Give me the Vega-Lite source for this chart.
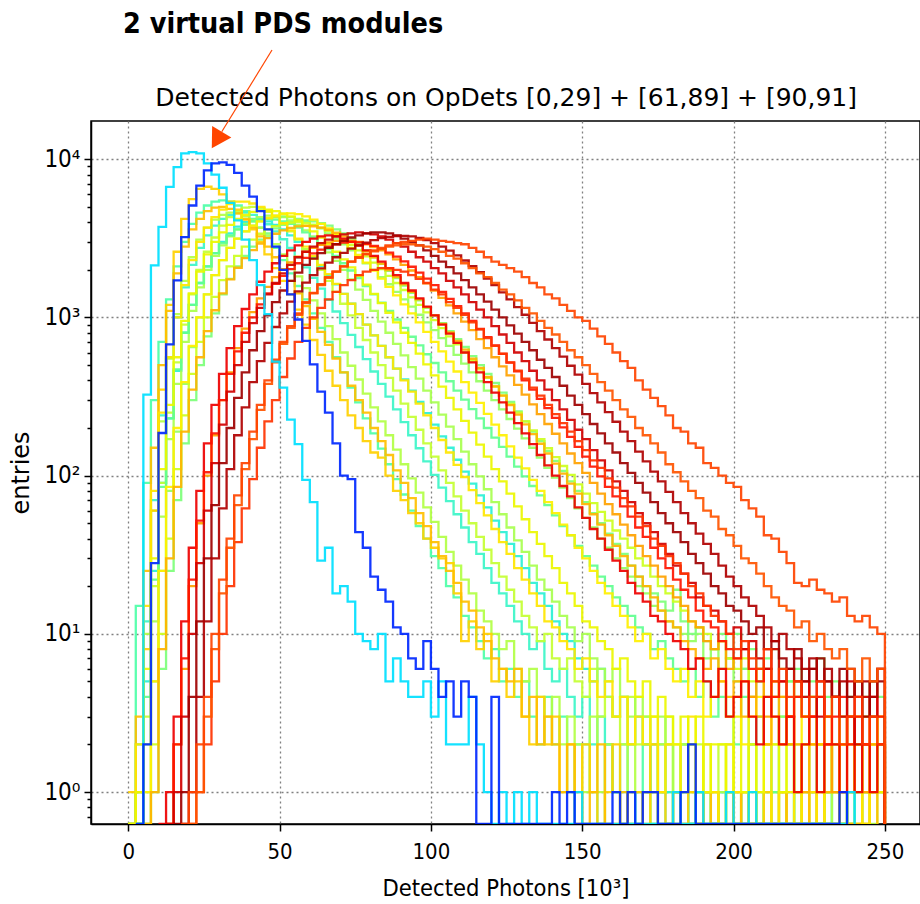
{"$schema":"https://vega.github.io/schema/vega-lite/v6.json","width":829,"height":703,"autosize":{"type":"none"},"padding":{"left":91,"top":121,"right":0,"bottom":80},
"config":{"view":{"stroke":"black","strokeWidth":1.5},"axis":{"domainColor":"black","domainWidth":1.5,"tickColor":"black","tickWidth":1.5,"labelFont":"DejaVu Sans Condensed","labelColor":"black","titleFontWeight":"normal","titleColor":"black","gridColor":"#808080","gridDash":[2,3],"gridWidth":1.3}},
"layer":[
{"data":{"values":[
{"s":"Q","x":0,"y":0},{"s":"Q","x":2.5,"y":15},{"s":"Q","x":5,"y":90},{"s":"Q","x":7.5,"y":300},{"s":"Q","x":10,"y":700},{"s":"Q","x":12.5,"y":1300},{"s":"Q","x":15,"y":2100},{"s":"Q","x":17.5,"y":3000},{"s":"Q","x":20,"y":3900},{"s":"Q","x":22.5,"y":4600},{"s":"Q","x":25,"y":5100},{"s":"Q","x":27.5,"y":5400},{"s":"Q","x":30,"y":5500},{"s":"Q","x":32.5,"y":5400},{"s":"Q","x":35,"y":5100},{"s":"Q","x":37.5,"y":4700},{"s":"Q","x":40,"y":4200},{"s":"Q","x":42.5,"y":3700},{"s":"Q","x":45,"y":3200},{"s":"Q","x":47.5,"y":2750},{"s":"Q","x":50,"y":2300},{"s":"Q","x":52.5,"y":1900},{"s":"Q","x":55,"y":1580},{"s":"Q","x":57.5,"y":1300},{"s":"Q","x":60,"y":1060},{"s":"Q","x":62.5,"y":860},{"s":"Q","x":65,"y":700},{"s":"Q","x":67.5,"y":560},{"s":"Q","x":70,"y":450},{"s":"Q","x":72.5,"y":360},{"s":"Q","x":75,"y":290},{"s":"Q","x":77.5,"y":230},{"s":"Q","x":80,"y":185},{"s":"Q","x":82.5,"y":148},{"s":"Q","x":85,"y":118},{"s":"Q","x":87.5,"y":95},{"s":"Q","x":90,"y":76},{"s":"Q","x":92.5,"y":60},{"s":"Q","x":95,"y":48},{"s":"Q","x":97.5,"y":40},{"s":"Q","x":100,"y":31},{"s":"Q","x":102.5,"y":26},{"s":"Q","x":105,"y":20},{"s":"Q","x":107.5,"y":17},{"s":"Q","x":110,"y":13},{"s":"Q","x":112.5,"y":11},{"s":"Q","x":115,"y":9},{"s":"Q","x":117.5,"y":7},{"s":"Q","x":120,"y":8},{"s":"Q","x":122.5,"y":5},{"s":"Q","x":125,"y":6},{"s":"Q","x":127.5,"y":4},{"s":"Q","x":130,"y":5},{"s":"Q","x":132.5,"y":3},{"s":"Q","x":135,"y":2},{"s":"Q","x":137.5,"y":4},{"s":"Q","x":140,"y":2},{"s":"Q","x":142.5,"y":3},{"s":"Q","x":145,"y":1},{"s":"Q","x":147.5,"y":2},{"s":"Q","x":150,"y":2},{"s":"Q","x":152.5,"y":1},{"s":"Q","x":155,"y":0},{"s":"Q","x":157.5,"y":2},{"s":"Q","x":160,"y":1},{"s":"Q","x":162.5,"y":1},{"s":"Q","x":165,"y":0},{"s":"Q","x":167.5,"y":1},{"s":"Q","x":170,"y":2},{"s":"Q","x":172.5,"y":0},{"s":"Q","x":175,"y":1},{"s":"Q","x":177.5,"y":1},{"s":"Q","x":180,"y":0},{"s":"Q","x":182.5,"y":1},{"s":"Q","x":185,"y":0},{"s":"Q","x":187.5,"y":1},{"s":"Q","x":190,"y":0},{"s":"Q","x":195,"y":1},{"s":"Q","x":197.5,"y":0},{"s":"Q","x":200,"y":1},{"s":"Q","x":202.5,"y":0},{"s":"Q","x":212.5,"y":1},{"s":"Q","x":215,"y":0},{"s":"Q","x":230,"y":1},{"s":"Q","x":232.5,"y":0},
{"s":"T","x":0,"y":0},{"s":"T","x":2.5,"y":1},{"s":"T","x":5,"y":5},{"s":"T","x":7.5,"y":25},{"s":"T","x":10,"y":90},{"s":"T","x":12.5,"y":230},{"s":"T","x":15,"y":460},{"s":"T","x":17.5,"y":800},{"s":"T","x":20,"y":1200},{"s":"T","x":22.5,"y":1650},{"s":"T","x":25,"y":2100},{"s":"T","x":27.5,"y":2550},{"s":"T","x":30,"y":3000},{"s":"T","x":32.5,"y":3400},{"s":"T","x":35,"y":3750},{"s":"T","x":37.5,"y":4000},{"s":"T","x":40,"y":4150},{"s":"T","x":42.5,"y":4150},{"s":"T","x":45,"y":4050},{"s":"T","x":47.5,"y":3850},{"s":"T","x":50,"y":3600},{"s":"T","x":52.5,"y":3300},{"s":"T","x":55,"y":3000},{"s":"T","x":57.5,"y":2700},{"s":"T","x":60,"y":2400},{"s":"T","x":62.5,"y":2120},{"s":"T","x":65,"y":1860},{"s":"T","x":67.5,"y":1620},{"s":"T","x":70,"y":1410},{"s":"T","x":72.5,"y":1220},{"s":"T","x":75,"y":1050},{"s":"T","x":77.5,"y":900},{"s":"T","x":80,"y":770},{"s":"T","x":82.5,"y":660},{"s":"T","x":85,"y":560},{"s":"T","x":87.5,"y":475},{"s":"T","x":90,"y":405},{"s":"T","x":92.5,"y":345},{"s":"T","x":95,"y":292},{"s":"T","x":97.5,"y":248},{"s":"T","x":100,"y":210},{"s":"T","x":102.5,"y":177},{"s":"T","x":105,"y":150},{"s":"T","x":107.5,"y":126},{"s":"T","x":110,"y":106},{"s":"T","x":112.5,"y":89},{"s":"T","x":115,"y":75},{"s":"T","x":117.5,"y":63},{"s":"T","x":120,"y":52},{"s":"T","x":122.5,"y":44},{"s":"T","x":125,"y":37},{"s":"T","x":127.5,"y":31},{"s":"T","x":130,"y":26},{"s":"T","x":132.5,"y":21},{"s":"T","x":135,"y":18},{"s":"T","x":137.5,"y":15},{"s":"T","x":140,"y":12},{"s":"T","x":142.5,"y":10},{"s":"T","x":145,"y":9},{"s":"T","x":147.5,"y":7},{"s":"T","x":150,"y":6},{"s":"T","x":152.5,"y":5},{"s":"T","x":155,"y":6},{"s":"T","x":157.5,"y":4},{"s":"T","x":160,"y":3},{"s":"T","x":162.5,"y":4},{"s":"T","x":165,"y":2},{"s":"T","x":167.5,"y":3},{"s":"T","x":170,"y":2},{"s":"T","x":172.5,"y":1},{"s":"T","x":175,"y":2},{"s":"T","x":177.5,"y":1},{"s":"T","x":180,"y":1},{"s":"T","x":182.5,"y":2},{"s":"T","x":185,"y":0},{"s":"T","x":187.5,"y":1},{"s":"T","x":190,"y":1},{"s":"T","x":192.5,"y":0},{"s":"T","x":195,"y":1},{"s":"T","x":197.5,"y":1},{"s":"T","x":200,"y":0},{"s":"T","x":202.5,"y":1},{"s":"T","x":205,"y":0},{"s":"T","x":217.5,"y":1},{"s":"T","x":220,"y":0},{"s":"T","x":240,"y":1},{"s":"T","x":242.5,"y":0},
{"s":"S","x":0,"y":0},{"s":"S","x":2.5,"y":2},{"s":"S","x":5,"y":12},{"s":"S","x":7.5,"y":70},{"s":"S","x":10,"y":240},{"s":"S","x":12.5,"y":560},{"s":"S","x":15,"y":1000},{"s":"S","x":17.5,"y":1550},{"s":"S","x":20,"y":2150},{"s":"S","x":22.5,"y":2750},{"s":"S","x":25,"y":3300},{"s":"S","x":27.5,"y":3800},{"s":"S","x":30,"y":4200},{"s":"S","x":32.5,"y":4450},{"s":"S","x":35,"y":4600},{"s":"S","x":37.5,"y":4600},{"s":"S","x":40,"y":4450},{"s":"S","x":42.5,"y":4200},{"s":"S","x":45,"y":3880},{"s":"S","x":47.5,"y":3500},{"s":"S","x":50,"y":3120},{"s":"S","x":52.5,"y":2750},{"s":"S","x":55,"y":2400},{"s":"S","x":57.5,"y":2070},{"s":"S","x":60,"y":1780},{"s":"S","x":62.5,"y":1520},{"s":"S","x":65,"y":1290},{"s":"S","x":67.5,"y":1090},{"s":"S","x":70,"y":920},{"s":"S","x":72.5,"y":775},{"s":"S","x":75,"y":650},{"s":"S","x":77.5,"y":545},{"s":"S","x":80,"y":455},{"s":"S","x":82.5,"y":380},{"s":"S","x":85,"y":316},{"s":"S","x":87.5,"y":262},{"s":"S","x":90,"y":218},{"s":"S","x":92.5,"y":180},{"s":"S","x":95,"y":149},{"s":"S","x":97.5,"y":123},{"s":"S","x":100,"y":101},{"s":"S","x":102.5,"y":84},{"s":"S","x":105,"y":69},{"s":"S","x":107.5,"y":57},{"s":"S","x":110,"y":47},{"s":"S","x":112.5,"y":38},{"s":"S","x":115,"y":32},{"s":"S","x":117.5,"y":26},{"s":"S","x":120,"y":21},{"s":"S","x":122.5,"y":18},{"s":"S","x":125,"y":15},{"s":"S","x":127.5,"y":12},{"s":"S","x":130,"y":10},{"s":"S","x":132.5,"y":8},{"s":"S","x":135,"y":9},{"s":"S","x":137.5,"y":6},{"s":"S","x":140,"y":5},{"s":"S","x":142.5,"y":6},{"s":"S","x":145,"y":4},{"s":"S","x":147.5,"y":3},{"s":"S","x":150,"y":4},{"s":"S","x":152.5,"y":2},{"s":"S","x":155,"y":3},{"s":"S","x":157.5,"y":2},{"s":"S","x":160,"y":1},{"s":"S","x":162.5,"y":2},{"s":"S","x":165,"y":1},{"s":"S","x":167.5,"y":0},{"s":"S","x":170,"y":1},{"s":"S","x":172.5,"y":2},{"s":"S","x":175,"y":1},{"s":"S","x":177.5,"y":0},{"s":"S","x":180,"y":1},{"s":"S","x":182.5,"y":1},{"s":"S","x":185,"y":0},{"s":"S","x":190,"y":1},{"s":"S","x":192.5,"y":0},{"s":"S","x":197.5,"y":1},{"s":"S","x":200,"y":0},{"s":"S","x":207.5,"y":1},{"s":"S","x":210,"y":0},{"s":"S","x":220,"y":1},{"s":"S","x":222.5,"y":0},{"s":"S","x":232.5,"y":1},{"s":"S","x":235,"y":0},
{"s":"L","x":0,"y":0},{"s":"L","x":2.5,"y":1},{"s":"L","x":5,"y":10},{"s":"L","x":7.5,"y":60},{"s":"L","x":10,"y":220},{"s":"L","x":12.5,"y":550},{"s":"L","x":15,"y":1050},{"s":"L","x":17.5,"y":1700},{"s":"L","x":20,"y":2400},{"s":"L","x":22.5,"y":3100},{"s":"L","x":25,"y":3700},{"s":"L","x":27.5,"y":4150},{"s":"L","x":30,"y":4450},{"s":"L","x":32.5,"y":4600},{"s":"L","x":35,"y":4550},{"s":"L","x":37.5,"y":4350},{"s":"L","x":40,"y":4050},{"s":"L","x":42.5,"y":3700},{"s":"L","x":45,"y":3300},{"s":"L","x":47.5,"y":2900},{"s":"L","x":50,"y":2500},{"s":"L","x":52.5,"y":2150},{"s":"L","x":55,"y":1820},{"s":"L","x":57.5,"y":1530},{"s":"L","x":60,"y":1280},{"s":"L","x":62.5,"y":1060},{"s":"L","x":65,"y":880},{"s":"L","x":67.5,"y":730},{"s":"L","x":70,"y":600},{"s":"L","x":72.5,"y":495},{"s":"L","x":75,"y":405},{"s":"L","x":77.5,"y":330},{"s":"L","x":80,"y":270},{"s":"L","x":82.5,"y":220},{"s":"L","x":85,"y":180},{"s":"L","x":87.5,"y":146},{"s":"L","x":90,"y":118},{"s":"L","x":92.5,"y":96},{"s":"L","x":95,"y":78},{"s":"L","x":97.5,"y":63},{"s":"L","x":100,"y":51},{"s":"L","x":102.5,"y":41},{"s":"L","x":105,"y":33},{"s":"L","x":107.5,"y":27},{"s":"L","x":110,"y":22},{"s":"L","x":112.5,"y":18},{"s":"L","x":115,"y":14},{"s":"L","x":117.5,"y":12},{"s":"L","x":120,"y":10},{"s":"L","x":122.5,"y":8},{"s":"L","x":125,"y":9},{"s":"L","x":127.5,"y":6},{"s":"L","x":130,"y":5},{"s":"L","x":132.5,"y":6},{"s":"L","x":135,"y":4},{"s":"L","x":137.5,"y":3},{"s":"L","x":140,"y":4},{"s":"L","x":142.5,"y":2},{"s":"L","x":145,"y":3},{"s":"L","x":147.5,"y":2},{"s":"L","x":150,"y":1},{"s":"L","x":152.5,"y":3},{"s":"L","x":155,"y":1},{"s":"L","x":157.5,"y":2},{"s":"L","x":160,"y":1},{"s":"L","x":162.5,"y":0},{"s":"L","x":165,"y":2},{"s":"L","x":167.5,"y":1},{"s":"L","x":170,"y":1},{"s":"L","x":172.5,"y":0},{"s":"L","x":175,"y":1},{"s":"L","x":177.5,"y":2},{"s":"L","x":180,"y":0},{"s":"L","x":182.5,"y":1},{"s":"L","x":185,"y":1},{"s":"L","x":187.5,"y":0},{"s":"L","x":190,"y":1},{"s":"L","x":192.5,"y":0},{"s":"L","x":195,"y":1},{"s":"L","x":197.5,"y":1},{"s":"L","x":200,"y":0},{"s":"L","x":205,"y":1},{"s":"L","x":207.5,"y":0},{"s":"L","x":210,"y":1},{"s":"L","x":212.5,"y":0},{"s":"L","x":217.5,"y":1},{"s":"L","x":220,"y":0},{"s":"L","x":222.5,"y":1},{"s":"L","x":225,"y":0},{"s":"L","x":230,"y":1},{"s":"L","x":232.5,"y":0},{"s":"L","x":235,"y":1},{"s":"L","x":237.5,"y":0},{"s":"L","x":242.5,"y":1},{"s":"L","x":245,"y":0},{"s":"L","x":247.5,"y":1},{"s":"L","x":250,"y":0},
{"s":"G","x":2.5,"y":0},{"s":"G","x":5,"y":3},{"s":"G","x":7.5,"y":20},{"s":"G","x":10,"y":90},{"s":"G","x":12.5,"y":250},{"s":"G","x":15,"y":520},{"s":"G","x":17.5,"y":900},{"s":"G","x":20,"y":1400},{"s":"G","x":22.5,"y":2000},{"s":"G","x":25,"y":2600},{"s":"G","x":27.5,"y":3200},{"s":"G","x":30,"y":3800},{"s":"G","x":32.5,"y":4300},{"s":"G","x":35,"y":4700},{"s":"G","x":37.5,"y":4950},{"s":"G","x":40,"y":5000},{"s":"G","x":42.5,"y":4900},{"s":"G","x":45,"y":4650},{"s":"G","x":47.5,"y":4300},{"s":"G","x":50,"y":3900},{"s":"G","x":52.5,"y":3500},{"s":"G","x":55,"y":3100},{"s":"G","x":57.5,"y":2700},{"s":"G","x":60,"y":2350},{"s":"G","x":62.5,"y":2000},{"s":"G","x":65,"y":1700},{"s":"G","x":67.5,"y":1450},{"s":"G","x":70,"y":1220},{"s":"G","x":72.5,"y":1030},{"s":"G","x":75,"y":860},{"s":"G","x":77.5,"y":720},{"s":"G","x":80,"y":600},{"s":"G","x":82.5,"y":500},{"s":"G","x":85,"y":415},{"s":"G","x":87.5,"y":345},{"s":"G","x":90,"y":285},{"s":"G","x":92.5,"y":235},{"s":"G","x":95,"y":195},{"s":"G","x":97.5,"y":160},{"s":"G","x":100,"y":132},{"s":"G","x":102.5,"y":108},{"s":"G","x":105,"y":90},{"s":"G","x":107.5,"y":74},{"s":"G","x":110,"y":60},{"s":"G","x":112.5,"y":50},{"s":"G","x":115,"y":41},{"s":"G","x":117.5,"y":34},{"s":"G","x":120,"y":28},{"s":"G","x":122.5,"y":23},{"s":"G","x":125,"y":19},{"s":"G","x":127.5,"y":16},{"s":"G","x":130,"y":13},{"s":"G","x":132.5,"y":11},{"s":"G","x":135,"y":9},{"s":"G","x":137.5,"y":10},{"s":"G","x":140,"y":7},{"s":"G","x":142.5,"y":6},{"s":"G","x":145,"y":7},{"s":"G","x":147.5,"y":5},{"s":"G","x":150,"y":4},{"s":"G","x":152.5,"y":6},{"s":"G","x":155,"y":3},{"s":"G","x":157.5,"y":4},{"s":"G","x":160,"y":3},{"s":"G","x":162.5,"y":2},{"s":"G","x":165,"y":4},{"s":"G","x":167.5,"y":2},{"s":"G","x":170,"y":3},{"s":"G","x":172.5,"y":1},{"s":"G","x":175,"y":2},{"s":"G","x":177.5,"y":3},{"s":"G","x":180,"y":1},{"s":"G","x":182.5,"y":2},{"s":"G","x":185,"y":1},{"s":"G","x":187.5,"y":2},{"s":"G","x":190,"y":0},{"s":"G","x":192.5,"y":1},{"s":"G","x":195,"y":2},{"s":"G","x":197.5,"y":1},{"s":"G","x":200,"y":0},{"s":"G","x":202.5,"y":1},{"s":"G","x":205,"y":2},{"s":"G","x":207.5,"y":0},{"s":"G","x":210,"y":1},{"s":"G","x":212.5,"y":1},{"s":"G","x":215,"y":0},{"s":"G","x":217.5,"y":2},{"s":"G","x":220,"y":1},{"s":"G","x":222.5,"y":0},{"s":"G","x":225,"y":1},{"s":"G","x":227.5,"y":0},{"s":"G","x":230,"y":1},{"s":"G","x":232.5,"y":2},{"s":"G","x":235,"y":0},{"s":"G","x":237.5,"y":1},{"s":"G","x":240,"y":1},{"s":"G","x":242.5,"y":0},{"s":"G","x":245,"y":1},{"s":"G","x":247.5,"y":1},{"s":"G","x":250,"y":0},
{"s":"P","x":2.5,"y":0},{"s":"P","x":5,"y":2},{"s":"P","x":7.5,"y":12},{"s":"P","x":10,"y":55},{"s":"P","x":12.5,"y":170},{"s":"P","x":15,"y":380},{"s":"P","x":17.5,"y":700},{"s":"P","x":20,"y":1100},{"s":"P","x":22.5,"y":1550},{"s":"P","x":25,"y":2000},{"s":"P","x":27.5,"y":2450},{"s":"P","x":30,"y":2850},{"s":"P","x":32.5,"y":3250},{"s":"P","x":35,"y":3600},{"s":"P","x":37.5,"y":3900},{"s":"P","x":40,"y":4150},{"s":"P","x":42.5,"y":4300},{"s":"P","x":45,"y":4400},{"s":"P","x":47.5,"y":4400},{"s":"P","x":50,"y":4300},{"s":"P","x":52.5,"y":4100},{"s":"P","x":55,"y":3850},{"s":"P","x":57.5,"y":3550},{"s":"P","x":60,"y":3250},{"s":"P","x":62.5,"y":2900},{"s":"P","x":65,"y":2580},{"s":"P","x":67.5,"y":2280},{"s":"P","x":70,"y":2000},{"s":"P","x":72.5,"y":1740},{"s":"P","x":75,"y":1500},{"s":"P","x":77.5,"y":1290},{"s":"P","x":80,"y":1100},{"s":"P","x":82.5,"y":940},{"s":"P","x":85,"y":800},{"s":"P","x":87.5,"y":680},{"s":"P","x":90,"y":575},{"s":"P","x":92.5,"y":485},{"s":"P","x":95,"y":410},{"s":"P","x":97.5,"y":345},{"s":"P","x":100,"y":290},{"s":"P","x":102.5,"y":243},{"s":"P","x":105,"y":204},{"s":"P","x":107.5,"y":170},{"s":"P","x":110,"y":142},{"s":"P","x":112.5,"y":118},{"s":"P","x":115,"y":99},{"s":"P","x":117.5,"y":82},{"s":"P","x":120,"y":68},{"s":"P","x":122.5,"y":57},{"s":"P","x":125,"y":47},{"s":"P","x":127.5,"y":39},{"s":"P","x":130,"y":33},{"s":"P","x":132.5,"y":27},{"s":"P","x":135,"y":22},{"s":"P","x":137.5,"y":19},{"s":"P","x":140,"y":16},{"s":"P","x":142.5,"y":13},{"s":"P","x":145,"y":11},{"s":"P","x":147.5,"y":9},{"s":"P","x":150,"y":10},{"s":"P","x":152.5,"y":7},{"s":"P","x":155,"y":6},{"s":"P","x":157.5,"y":5},{"s":"P","x":160,"y":6},{"s":"P","x":162.5,"y":4},{"s":"P","x":165,"y":3},{"s":"P","x":167.5,"y":4},{"s":"P","x":170,"y":3},{"s":"P","x":172.5,"y":2},{"s":"P","x":175,"y":3},{"s":"P","x":177.5,"y":2},{"s":"P","x":180,"y":1},{"s":"P","x":182.5,"y":2},{"s":"P","x":185,"y":2},{"s":"P","x":187.5,"y":1},{"s":"P","x":190,"y":2},{"s":"P","x":192.5,"y":1},{"s":"P","x":195,"y":0},{"s":"P","x":197.5,"y":2},{"s":"P","x":200,"y":1},{"s":"P","x":202.5,"y":1},{"s":"P","x":205,"y":2},{"s":"P","x":207.5,"y":0},{"s":"P","x":210,"y":1},{"s":"P","x":212.5,"y":2},{"s":"P","x":215,"y":1},{"s":"P","x":217.5,"y":0},{"s":"P","x":220,"y":2},{"s":"P","x":222.5,"y":1},{"s":"P","x":225,"y":1},{"s":"P","x":227.5,"y":0},{"s":"P","x":230,"y":1},{"s":"P","x":232.5,"y":2},{"s":"P","x":235,"y":1},{"s":"P","x":237.5,"y":0},{"s":"P","x":240,"y":1},{"s":"P","x":242.5,"y":1},{"s":"P","x":245,"y":2},{"s":"P","x":247.5,"y":1},{"s":"P","x":250,"y":0},
{"s":"U","x":2.5,"y":0},{"s":"U","x":5,"y":4},{"s":"U","x":7.5,"y":22},{"s":"U","x":10,"y":85},{"s":"U","x":12.5,"y":230},{"s":"U","x":15,"y":470},{"s":"U","x":17.5,"y":800},{"s":"U","x":20,"y":1200},{"s":"U","x":22.5,"y":1650},{"s":"U","x":25,"y":2100},{"s":"U","x":27.5,"y":2550},{"s":"U","x":30,"y":2950},{"s":"U","x":32.5,"y":3300},{"s":"U","x":35,"y":3600},{"s":"U","x":37.5,"y":3850},{"s":"U","x":40,"y":4050},{"s":"U","x":42.5,"y":4150},{"s":"U","x":45,"y":4200},{"s":"U","x":47.5,"y":4150},{"s":"U","x":50,"y":4050},{"s":"U","x":52.5,"y":3900},{"s":"U","x":55,"y":3700},{"s":"U","x":57.5,"y":3450},{"s":"U","x":60,"y":3200},{"s":"U","x":62.5,"y":2950},{"s":"U","x":65,"y":2700},{"s":"U","x":67.5,"y":2450},{"s":"U","x":70,"y":2200},{"s":"U","x":72.5,"y":1980},{"s":"U","x":75,"y":1770},{"s":"U","x":77.5,"y":1580},{"s":"U","x":80,"y":1400},{"s":"U","x":82.5,"y":1240},{"s":"U","x":85,"y":1100},{"s":"U","x":87.5,"y":970},{"s":"U","x":90,"y":860},{"s":"U","x":92.5,"y":755},{"s":"U","x":95,"y":665},{"s":"U","x":97.5,"y":585},{"s":"U","x":100,"y":515},{"s":"U","x":102.5,"y":450},{"s":"U","x":105,"y":395},{"s":"U","x":107.5,"y":345},{"s":"U","x":110,"y":302},{"s":"U","x":112.5,"y":263},{"s":"U","x":115,"y":230},{"s":"U","x":117.5,"y":200},{"s":"U","x":120,"y":174},{"s":"U","x":122.5,"y":152},{"s":"U","x":125,"y":132},{"s":"U","x":127.5,"y":114},{"s":"U","x":130,"y":99},{"s":"U","x":132.5,"y":86},{"s":"U","x":135,"y":75},{"s":"U","x":137.5,"y":65},{"s":"U","x":140,"y":56},{"s":"U","x":142.5,"y":48},{"s":"U","x":145,"y":42},{"s":"U","x":147.5,"y":36},{"s":"U","x":150,"y":31},{"s":"U","x":152.5,"y":27},{"s":"U","x":155,"y":23},{"s":"U","x":157.5,"y":20},{"s":"U","x":160,"y":17},{"s":"U","x":162.5,"y":15},{"s":"U","x":165,"y":13},{"s":"U","x":167.5,"y":11},{"s":"U","x":170,"y":10},{"s":"U","x":172.5,"y":8},{"s":"U","x":175,"y":9},{"s":"U","x":177.5,"y":7},{"s":"U","x":180,"y":6},{"s":"U","x":182.5,"y":5},{"s":"U","x":185,"y":6},{"s":"U","x":187.5,"y":4},{"s":"U","x":190,"y":5},{"s":"U","x":192.5,"y":3},{"s":"U","x":195,"y":4},{"s":"U","x":197.5,"y":3},{"s":"U","x":200,"y":2},{"s":"U","x":202.5,"y":4},{"s":"U","x":205,"y":2},{"s":"U","x":207.5,"y":3},{"s":"U","x":210,"y":2},{"s":"U","x":212.5,"y":1},{"s":"U","x":215,"y":3},{"s":"U","x":217.5,"y":2},{"s":"U","x":220,"y":1},{"s":"U","x":222.5,"y":2},{"s":"U","x":225,"y":1},{"s":"U","x":227.5,"y":2},{"s":"U","x":230,"y":1},{"s":"U","x":232.5,"y":2},{"s":"U","x":235,"y":0},{"s":"U","x":237.5,"y":1},{"s":"U","x":240,"y":2},{"s":"U","x":242.5,"y":1},{"s":"U","x":245,"y":1},{"s":"U","x":247.5,"y":2},{"s":"U","x":250,"y":0},
{"s":"H","x":2.5,"y":0},{"s":"H","x":5,"y":1},{"s":"H","x":7.5,"y":5},{"s":"H","x":10,"y":25},{"s":"H","x":12.5,"y":80},{"s":"H","x":15,"y":190},{"s":"H","x":17.5,"y":380},{"s":"H","x":20,"y":650},{"s":"H","x":22.5,"y":1000},{"s":"H","x":25,"y":1400},{"s":"H","x":27.5,"y":1850},{"s":"H","x":30,"y":2300},{"s":"H","x":32.5,"y":2750},{"s":"H","x":35,"y":3150},{"s":"H","x":37.5,"y":3500},{"s":"H","x":40,"y":3800},{"s":"H","x":42.5,"y":4050},{"s":"H","x":45,"y":4200},{"s":"H","x":47.5,"y":4300},{"s":"H","x":50,"y":4350},{"s":"H","x":52.5,"y":4300},{"s":"H","x":55,"y":4200},{"s":"H","x":57.5,"y":4050},{"s":"H","x":60,"y":3850},{"s":"H","x":62.5,"y":3650},{"s":"H","x":65,"y":3400},{"s":"H","x":67.5,"y":3150},{"s":"H","x":70,"y":2900},{"s":"H","x":72.5,"y":2650},{"s":"H","x":75,"y":2400},{"s":"H","x":77.5,"y":2200},{"s":"H","x":80,"y":2000},{"s":"H","x":82.5,"y":1800},{"s":"H","x":85,"y":1620},{"s":"H","x":87.5,"y":1450},{"s":"H","x":90,"y":1300},{"s":"H","x":92.5,"y":1170},{"s":"H","x":95,"y":1040},{"s":"H","x":97.5,"y":930},{"s":"H","x":100,"y":830},{"s":"H","x":102.5,"y":740},{"s":"H","x":105,"y":660},{"s":"H","x":107.5,"y":580},{"s":"H","x":110,"y":510},{"s":"H","x":112.5,"y":450},{"s":"H","x":115,"y":395},{"s":"H","x":117.5,"y":345},{"s":"H","x":120,"y":300},{"s":"H","x":122.5,"y":262},{"s":"H","x":125,"y":228},{"s":"H","x":127.5,"y":198},{"s":"H","x":130,"y":172},{"s":"H","x":132.5,"y":150},{"s":"H","x":135,"y":130},{"s":"H","x":137.5,"y":112},{"s":"H","x":140,"y":97},{"s":"H","x":142.5,"y":84},{"s":"H","x":145,"y":72},{"s":"H","x":147.5,"y":62},{"s":"H","x":150,"y":54},{"s":"H","x":152.5,"y":47},{"s":"H","x":155,"y":40},{"s":"H","x":157.5,"y":35},{"s":"H","x":160,"y":30},{"s":"H","x":162.5,"y":26},{"s":"H","x":165,"y":23},{"s":"H","x":167.5,"y":20},{"s":"H","x":170,"y":18},{"s":"H","x":172.5,"y":15},{"s":"H","x":175,"y":14},{"s":"H","x":177.5,"y":12},{"s":"H","x":180,"y":11},{"s":"H","x":182.5,"y":10},{"s":"H","x":185,"y":9},{"s":"H","x":187.5,"y":10},{"s":"H","x":190,"y":7},{"s":"H","x":192.5,"y":8},{"s":"H","x":195,"y":6},{"s":"H","x":197.5,"y":7},{"s":"H","x":200,"y":5},{"s":"H","x":202.5,"y":6},{"s":"H","x":205,"y":4},{"s":"H","x":207.5,"y":5},{"s":"H","x":210,"y":6},{"s":"H","x":212.5,"y":4},{"s":"H","x":215,"y":3},{"s":"H","x":217.5,"y":5},{"s":"H","x":220,"y":4},{"s":"H","x":222.5,"y":3},{"s":"H","x":225,"y":4},{"s":"H","x":227.5,"y":2},{"s":"H","x":230,"y":3},{"s":"H","x":232.5,"y":4},{"s":"H","x":235,"y":2},{"s":"H","x":237.5,"y":3},{"s":"H","x":240,"y":2},{"s":"H","x":242.5,"y":4},{"s":"H","x":245,"y":3},{"s":"H","x":247.5,"y":2},{"s":"H","x":250,"y":0},
{"s":"I","x":5,"y":0},{"s":"I","x":7.5,"y":1},{"s":"I","x":10,"y":6},{"s":"I","x":12.5,"y":25},{"s":"I","x":15,"y":70},{"s":"I","x":17.5,"y":160},{"s":"I","x":20,"y":300},{"s":"I","x":22.5,"y":500},{"s":"I","x":25,"y":760},{"s":"I","x":27.5,"y":1060},{"s":"I","x":30,"y":1400},{"s":"I","x":32.5,"y":1750},{"s":"I","x":35,"y":2100},{"s":"I","x":37.5,"y":2450},{"s":"I","x":40,"y":2800},{"s":"I","x":42.5,"y":3100},{"s":"I","x":45,"y":3400},{"s":"I","x":47.5,"y":3650},{"s":"I","x":50,"y":3850},{"s":"I","x":52.5,"y":4000},{"s":"I","x":55,"y":4100},{"s":"I","x":57.5,"y":4100},{"s":"I","x":60,"y":4050},{"s":"I","x":62.5,"y":3950},{"s":"I","x":65,"y":3800},{"s":"I","x":67.5,"y":3600},{"s":"I","x":70,"y":3400},{"s":"I","x":72.5,"y":3150},{"s":"I","x":75,"y":2900},{"s":"I","x":77.5,"y":2650},{"s":"I","x":80,"y":2400},{"s":"I","x":82.5,"y":2180},{"s":"I","x":85,"y":1970},{"s":"I","x":87.5,"y":1770},{"s":"I","x":90,"y":1590},{"s":"I","x":92.5,"y":1430},{"s":"I","x":95,"y":1280},{"s":"I","x":97.5,"y":1150},{"s":"I","x":100,"y":1030},{"s":"I","x":102.5,"y":920},{"s":"I","x":105,"y":820},{"s":"I","x":107.5,"y":730},{"s":"I","x":110,"y":650},{"s":"I","x":112.5,"y":570},{"s":"I","x":115,"y":500},{"s":"I","x":117.5,"y":440},{"s":"I","x":120,"y":385},{"s":"I","x":122.5,"y":335},{"s":"I","x":125,"y":292},{"s":"I","x":127.5,"y":255},{"s":"I","x":130,"y":220},{"s":"I","x":132.5,"y":190},{"s":"I","x":135,"y":165},{"s":"I","x":137.5,"y":143},{"s":"I","x":140,"y":124},{"s":"I","x":142.5,"y":107},{"s":"I","x":145,"y":92},{"s":"I","x":147.5,"y":80},{"s":"I","x":150,"y":68},{"s":"I","x":152.5,"y":58},{"s":"I","x":155,"y":50},{"s":"I","x":157.5,"y":43},{"s":"I","x":160,"y":37},{"s":"I","x":162.5,"y":32},{"s":"I","x":165,"y":27},{"s":"I","x":167.5,"y":23},{"s":"I","x":170,"y":20},{"s":"I","x":172.5,"y":18},{"s":"I","x":175,"y":16},{"s":"I","x":177.5,"y":14},{"s":"I","x":180,"y":19},{"s":"I","x":182.5,"y":12},{"s":"I","x":185,"y":10},{"s":"I","x":187.5,"y":11},{"s":"I","x":190,"y":9},{"s":"I","x":192.5,"y":8},{"s":"I","x":195,"y":10},{"s":"I","x":197.5,"y":7},{"s":"I","x":200,"y":10},{"s":"I","x":202.5,"y":6},{"s":"I","x":205,"y":8},{"s":"I","x":207.5,"y":5},{"s":"I","x":210,"y":7},{"s":"I","x":212.5,"y":8},{"s":"I","x":215,"y":6},{"s":"I","x":217.5,"y":5},{"s":"I","x":220,"y":6},{"s":"I","x":222.5,"y":4},{"s":"I","x":225,"y":5},{"s":"I","x":227.5,"y":7},{"s":"I","x":230,"y":4},{"s":"I","x":232.5,"y":5},{"s":"I","x":235,"y":3},{"s":"I","x":237.5,"y":4},{"s":"I","x":240,"y":5},{"s":"I","x":242.5,"y":3},{"s":"I","x":245,"y":5},{"s":"I","x":247.5,"y":4},{"s":"I","x":250,"y":0},
{"s":"V","x":5,"y":0},{"s":"V","x":7.5,"y":2},{"s":"V","x":10,"y":10},{"s":"V","x":12.5,"y":40},{"s":"V","x":15,"y":110},{"s":"V","x":17.5,"y":240},{"s":"V","x":20,"y":440},{"s":"V","x":22.5,"y":700},{"s":"V","x":25,"y":1000},{"s":"V","x":27.5,"y":1350},{"s":"V","x":30,"y":1720},{"s":"V","x":32.5,"y":2100},{"s":"V","x":35,"y":2450},{"s":"V","x":37.5,"y":2800},{"s":"V","x":40,"y":3100},{"s":"V","x":42.5,"y":3380},{"s":"V","x":45,"y":3600},{"s":"V","x":47.5,"y":3780},{"s":"V","x":50,"y":3900},{"s":"V","x":52.5,"y":3980},{"s":"V","x":55,"y":4000},{"s":"V","x":57.5,"y":3950},{"s":"V","x":60,"y":3850},{"s":"V","x":62.5,"y":3700},{"s":"V","x":65,"y":3520},{"s":"V","x":67.5,"y":3320},{"s":"V","x":70,"y":3100},{"s":"V","x":72.5,"y":2880},{"s":"V","x":75,"y":2650},{"s":"V","x":77.5,"y":2430},{"s":"V","x":80,"y":2220},{"s":"V","x":82.5,"y":2020},{"s":"V","x":85,"y":1830},{"s":"V","x":87.5,"y":1650},{"s":"V","x":90,"y":1490},{"s":"V","x":92.5,"y":1340},{"s":"V","x":95,"y":1200},{"s":"V","x":97.5,"y":1075},{"s":"V","x":100,"y":960},{"s":"V","x":102.5,"y":855},{"s":"V","x":105,"y":760},{"s":"V","x":107.5,"y":675},{"s":"V","x":110,"y":600},{"s":"V","x":112.5,"y":532},{"s":"V","x":115,"y":470},{"s":"V","x":117.5,"y":415},{"s":"V","x":120,"y":366},{"s":"V","x":122.5,"y":322},{"s":"V","x":125,"y":284},{"s":"V","x":127.5,"y":250},{"s":"V","x":130,"y":220},{"s":"V","x":132.5,"y":193},{"s":"V","x":135,"y":170},{"s":"V","x":137.5,"y":149},{"s":"V","x":140,"y":131},{"s":"V","x":142.5,"y":115},{"s":"V","x":145,"y":101},{"s":"V","x":147.5,"y":88},{"s":"V","x":150,"y":77},{"s":"V","x":152.5,"y":67},{"s":"V","x":155,"y":59},{"s":"V","x":157.5,"y":52},{"s":"V","x":160,"y":45},{"s":"V","x":162.5,"y":40},{"s":"V","x":165,"y":35},{"s":"V","x":167.5,"y":30},{"s":"V","x":170,"y":27},{"s":"V","x":172.5,"y":23},{"s":"V","x":175,"y":20},{"s":"V","x":177.5,"y":18},{"s":"V","x":180,"y":16},{"s":"V","x":182.5,"y":14},{"s":"V","x":185,"y":12},{"s":"V","x":187.5,"y":11},{"s":"V","x":190,"y":10},{"s":"V","x":192.5,"y":8},{"s":"V","x":195,"y":9},{"s":"V","x":197.5,"y":7},{"s":"V","x":200,"y":6},{"s":"V","x":202.5,"y":7},{"s":"V","x":205,"y":5},{"s":"V","x":207.5,"y":6},{"s":"V","x":210,"y":4},{"s":"V","x":212.5,"y":5},{"s":"V","x":215,"y":4},{"s":"V","x":217.5,"y":3},{"s":"V","x":220,"y":5},{"s":"V","x":222.5,"y":3},{"s":"V","x":225,"y":4},{"s":"V","x":227.5,"y":2},{"s":"V","x":230,"y":3},{"s":"V","x":232.5,"y":4},{"s":"V","x":235,"y":2},{"s":"V","x":237.5,"y":3},{"s":"V","x":240,"y":3},{"s":"V","x":242.5,"y":2},{"s":"V","x":245,"y":3},{"s":"V","x":247.5,"y":2},{"s":"V","x":250,"y":0},
{"s":"Y","x":0,"y":1},{"s":"Y","x":2.5,"y":1},{"s":"Y","x":5,"y":8},{"s":"Y","x":7.5,"y":60},{"s":"Y","x":10,"y":350},{"s":"Y","x":12.5,"y":1200},{"s":"Y","x":15,"y":2600},{"s":"Y","x":17.5,"y":4200},{"s":"Y","x":20,"y":5600},{"s":"Y","x":22.5,"y":6500},{"s":"Y","x":25,"y":6700},{"s":"Y","x":27.5,"y":6500},{"s":"Y","x":30,"y":6000},{"s":"Y","x":32.5,"y":5400},{"s":"Y","x":35,"y":4800},{"s":"Y","x":37.5,"y":4200},{"s":"Y","x":40,"y":3600},{"s":"Y","x":42.5,"y":3000},{"s":"Y","x":45,"y":2500},{"s":"Y","x":47.5,"y":2050},{"s":"Y","x":50,"y":1700},{"s":"Y","x":52.5,"y":1400},{"s":"Y","x":55,"y":1120},{"s":"Y","x":57.5,"y":900},{"s":"Y","x":60,"y":720},{"s":"Y","x":62.5,"y":580},{"s":"Y","x":65,"y":460},{"s":"Y","x":67.5,"y":370},{"s":"Y","x":70,"y":300},{"s":"Y","x":72.5,"y":240},{"s":"Y","x":75,"y":200},{"s":"Y","x":77.5,"y":165},{"s":"Y","x":80,"y":140},{"s":"Y","x":82.5,"y":130},{"s":"Y","x":85,"y":100},{"s":"Y","x":87.5,"y":80},{"s":"Y","x":90,"y":70},{"s":"Y","x":92.5,"y":58},{"s":"Y","x":95,"y":50},{"s":"Y","x":97.5,"y":40},{"s":"Y","x":100,"y":35},{"s":"Y","x":102.5,"y":30},{"s":"Y","x":105,"y":28},{"s":"Y","x":107.5,"y":18},{"s":"Y","x":110,"y":9},{"s":"Y","x":112.5,"y":12},{"s":"Y","x":115,"y":8},{"s":"Y","x":117.5,"y":10},{"s":"Y","x":120,"y":5},{"s":"Y","x":122.5,"y":6},{"s":"Y","x":125,"y":4},{"s":"Y","x":127.5,"y":5},{"s":"Y","x":130,"y":3},{"s":"Y","x":132.5,"y":2},{"s":"Y","x":135,"y":4},{"s":"Y","x":137.5,"y":2},{"s":"Y","x":140,"y":3},{"s":"Y","x":142.5,"y":1},{"s":"Y","x":145,"y":2},{"s":"Y","x":147.5,"y":0},{"s":"Y","x":150,"y":2},{"s":"Y","x":152.5,"y":1},{"s":"Y","x":155,"y":0},{"s":"Y","x":157.5,"y":1},{"s":"Y","x":160,"y":2},{"s":"Y","x":162.5,"y":0},{"s":"Y","x":165,"y":1},{"s":"Y","x":167.5,"y":1},{"s":"Y","x":170,"y":0},{"s":"Y","x":172.5,"y":2},{"s":"Y","x":175,"y":1},{"s":"Y","x":177.5,"y":0},{"s":"Y","x":180,"y":1},{"s":"Y","x":182.5,"y":0},{"s":"Y","x":185,"y":1},{"s":"Y","x":187.5,"y":0},{"s":"Y","x":190,"y":1},{"s":"Y","x":192.5,"y":1},{"s":"Y","x":195,"y":0},{"s":"Y","x":197.5,"y":1},{"s":"Y","x":200,"y":0},{"s":"Y","x":202.5,"y":1},{"s":"Y","x":205,"y":0},{"s":"Y","x":210,"y":1},{"s":"Y","x":212.5,"y":0},{"s":"Y","x":215,"y":1},{"s":"Y","x":217.5,"y":0},{"s":"Y","x":222.5,"y":1},{"s":"Y","x":225,"y":0},{"s":"Y","x":227.5,"y":1},{"s":"Y","x":230,"y":0},{"s":"Y","x":235,"y":1},{"s":"Y","x":237.5,"y":0},{"s":"Y","x":242.5,"y":1},{"s":"Y","x":245,"y":0},
{"s":"N","x":0,"y":0},{"s":"N","x":2.5,"y":3},{"s":"N","x":5,"y":25},{"s":"N","x":7.5,"y":150},{"s":"N","x":10,"y":500},{"s":"N","x":12.5,"y":1100},{"s":"N","x":15,"y":1900},{"s":"N","x":17.5,"y":2800},{"s":"N","x":20,"y":3600},{"s":"N","x":22.5,"y":4200},{"s":"N","x":25,"y":4700},{"s":"N","x":27.5,"y":4950},{"s":"N","x":30,"y":5000},{"s":"N","x":32.5,"y":4850},{"s":"N","x":35,"y":4550},{"s":"N","x":37.5,"y":4150},{"s":"N","x":40,"y":3700},{"s":"N","x":42.5,"y":3250},{"s":"N","x":45,"y":2800},{"s":"N","x":47.5,"y":2400},{"s":"N","x":50,"y":2020},{"s":"N","x":52.5,"y":1700},{"s":"N","x":55,"y":1420},{"s":"N","x":57.5,"y":1180},{"s":"N","x":60,"y":980},{"s":"N","x":62.5,"y":810},{"s":"N","x":65,"y":670},{"s":"N","x":67.5,"y":550},{"s":"N","x":70,"y":450},{"s":"N","x":72.5,"y":370},{"s":"N","x":75,"y":300},{"s":"N","x":77.5,"y":250},{"s":"N","x":80,"y":200},{"s":"N","x":82.5,"y":165},{"s":"N","x":85,"y":135},{"s":"N","x":87.5,"y":108},{"s":"N","x":90,"y":90},{"s":"N","x":92.5,"y":72},{"s":"N","x":95,"y":58},{"s":"N","x":97.5,"y":48},{"s":"N","x":100,"y":38},{"s":"N","x":102.5,"y":31},{"s":"N","x":105,"y":25},{"s":"N","x":107.5,"y":21},{"s":"N","x":110,"y":16},{"s":"N","x":112.5,"y":14},{"s":"N","x":115,"y":11},{"s":"N","x":117.5,"y":9},{"s":"N","x":120,"y":7},{"s":"N","x":122.5,"y":6},{"s":"N","x":125,"y":5},{"s":"N","x":127.5,"y":6},{"s":"N","x":130,"y":3},{"s":"N","x":132.5,"y":4},{"s":"N","x":135,"y":2},{"s":"N","x":137.5,"y":3},{"s":"N","x":140,"y":2},{"s":"N","x":142.5,"y":1},{"s":"N","x":145,"y":2},{"s":"N","x":147.5,"y":1},{"s":"N","x":150,"y":0},{"s":"N","x":152.5,"y":1},{"s":"N","x":155,"y":2},{"s":"N","x":157.5,"y":0},{"s":"N","x":162.5,"y":1},{"s":"N","x":165,"y":0},{"s":"N","x":170,"y":1},{"s":"N","x":172.5,"y":1},{"s":"N","x":175,"y":0},{"s":"N","x":180,"y":1},{"s":"N","x":182.5,"y":0},{"s":"N","x":190,"y":1},{"s":"N","x":192.5,"y":0},{"s":"N","x":200,"y":1},{"s":"N","x":202.5,"y":0},{"s":"N","x":215,"y":1},{"s":"N","x":217.5,"y":0},{"s":"N","x":225,"y":1},{"s":"N","x":227.5,"y":0},{"s":"N","x":245,"y":1},{"s":"N","x":247.5,"y":0},
{"s":"J","x":0,"y":0},{"s":"J","x":2.5,"y":2},{"s":"J","x":5,"y":15},{"s":"J","x":7.5,"y":80},{"s":"J","x":10,"y":250},{"s":"J","x":12.5,"y":560},{"s":"J","x":15,"y":1000},{"s":"J","x":17.5,"y":1600},{"s":"J","x":20,"y":2300},{"s":"J","x":22.5,"y":3000},{"s":"J","x":25,"y":3700},{"s":"J","x":27.5,"y":4300},{"s":"J","x":30,"y":4800},{"s":"J","x":32.5,"y":5200},{"s":"J","x":35,"y":5400},{"s":"J","x":37.5,"y":5400},{"s":"J","x":40,"y":5250},{"s":"J","x":42.5,"y":5000},{"s":"J","x":45,"y":4700},{"s":"J","x":47.5,"y":4350},{"s":"J","x":50,"y":3950},{"s":"J","x":52.5,"y":3550},{"s":"J","x":55,"y":3150},{"s":"J","x":57.5,"y":2800},{"s":"J","x":60,"y":2450},{"s":"J","x":62.5,"y":2150},{"s":"J","x":65,"y":1880},{"s":"J","x":67.5,"y":1630},{"s":"J","x":70,"y":1410},{"s":"J","x":72.5,"y":1220},{"s":"J","x":75,"y":1050},{"s":"J","x":77.5,"y":900},{"s":"J","x":80,"y":770},{"s":"J","x":82.5,"y":660},{"s":"J","x":85,"y":560},{"s":"J","x":87.5,"y":475},{"s":"J","x":90,"y":400},{"s":"J","x":92.5,"y":340},{"s":"J","x":95,"y":285},{"s":"J","x":97.5,"y":240},{"s":"J","x":100,"y":200},{"s":"J","x":102.5,"y":168},{"s":"J","x":105,"y":140},{"s":"J","x":107.5,"y":117},{"s":"J","x":110,"y":98},{"s":"J","x":112.5,"y":81},{"s":"J","x":115,"y":67},{"s":"J","x":117.5,"y":56},{"s":"J","x":120,"y":46},{"s":"J","x":122.5,"y":38},{"s":"J","x":125,"y":32},{"s":"J","x":127.5,"y":26},{"s":"J","x":130,"y":22},{"s":"J","x":132.5,"y":18},{"s":"J","x":135,"y":15},{"s":"J","x":137.5,"y":12},{"s":"J","x":140,"y":11},{"s":"J","x":142.5,"y":9},{"s":"J","x":145,"y":8},{"s":"J","x":147.5,"y":6},{"s":"J","x":150,"y":7},{"s":"J","x":152.5,"y":5},{"s":"J","x":155,"y":4},{"s":"J","x":157.5,"y":5},{"s":"J","x":160,"y":3},{"s":"J","x":162.5,"y":4},{"s":"J","x":165,"y":2},{"s":"J","x":167.5,"y":3},{"s":"J","x":170,"y":2},{"s":"J","x":172.5,"y":3},{"s":"J","x":175,"y":1},{"s":"J","x":177.5,"y":2},{"s":"J","x":180,"y":2},{"s":"J","x":182.5,"y":1},{"s":"J","x":185,"y":3},{"s":"J","x":187.5,"y":1},{"s":"J","x":190,"y":2},{"s":"J","x":192.5,"y":1},{"s":"J","x":195,"y":0},{"s":"J","x":197.5,"y":2},{"s":"J","x":200,"y":1},{"s":"J","x":202.5,"y":1},{"s":"J","x":205,"y":0},{"s":"J","x":207.5,"y":1},{"s":"J","x":210,"y":2},{"s":"J","x":212.5,"y":0},{"s":"J","x":215,"y":1},{"s":"J","x":217.5,"y":1},{"s":"J","x":220,"y":0},{"s":"J","x":222.5,"y":2},{"s":"J","x":225,"y":1},{"s":"J","x":227.5,"y":0},{"s":"J","x":230,"y":1},{"s":"J","x":232.5,"y":1},{"s":"J","x":235,"y":0},{"s":"J","x":237.5,"y":1},{"s":"J","x":240,"y":2},{"s":"J","x":242.5,"y":0},{"s":"J","x":245,"y":1},{"s":"J","x":247.5,"y":1},{"s":"J","x":250,"y":0},
{"s":"K","x":0,"y":0},{"s":"K","x":2.5,"y":1},{"s":"K","x":5,"y":6},{"s":"K","x":7.5,"y":30},{"s":"K","x":10,"y":110},{"s":"K","x":12.5,"y":280},{"s":"K","x":15,"y":560},{"s":"K","x":17.5,"y":950},{"s":"K","x":20,"y":1420},{"s":"K","x":22.5,"y":1950},{"s":"K","x":25,"y":2500},{"s":"K","x":27.5,"y":3000},{"s":"K","x":30,"y":3450},{"s":"K","x":32.5,"y":3850},{"s":"K","x":35,"y":4200},{"s":"K","x":37.5,"y":4450},{"s":"K","x":40,"y":4650},{"s":"K","x":42.5,"y":4750},{"s":"K","x":45,"y":4800},{"s":"K","x":47.5,"y":4700},{"s":"K","x":50,"y":4550},{"s":"K","x":52.5,"y":4350},{"s":"K","x":55,"y":4100},{"s":"K","x":57.5,"y":3800},{"s":"K","x":60,"y":3500},{"s":"K","x":62.5,"y":3200},{"s":"K","x":65,"y":2900},{"s":"K","x":67.5,"y":2600},{"s":"K","x":70,"y":2330},{"s":"K","x":72.5,"y":2070},{"s":"K","x":75,"y":1830},{"s":"K","x":77.5,"y":1610},{"s":"K","x":80,"y":1410},{"s":"K","x":82.5,"y":1230},{"s":"K","x":85,"y":1070},{"s":"K","x":87.5,"y":930},{"s":"K","x":90,"y":800},{"s":"K","x":92.5,"y":690},{"s":"K","x":95,"y":590},{"s":"K","x":97.5,"y":505},{"s":"K","x":100,"y":430},{"s":"K","x":102.5,"y":365},{"s":"K","x":105,"y":310},{"s":"K","x":107.5,"y":262},{"s":"K","x":110,"y":222},{"s":"K","x":112.5,"y":187},{"s":"K","x":115,"y":157},{"s":"K","x":117.5,"y":132},{"s":"K","x":120,"y":110},{"s":"K","x":122.5,"y":92},{"s":"K","x":125,"y":77},{"s":"K","x":127.5,"y":64},{"s":"K","x":130,"y":53},{"s":"K","x":132.5,"y":44},{"s":"K","x":135,"y":37},{"s":"K","x":137.5,"y":31},{"s":"K","x":140,"y":26},{"s":"K","x":142.5,"y":21},{"s":"K","x":145,"y":18},{"s":"K","x":147.5,"y":15},{"s":"K","x":150,"y":12},{"s":"K","x":152.5,"y":11},{"s":"K","x":155,"y":9},{"s":"K","x":157.5,"y":8},{"s":"K","x":160,"y":6},{"s":"K","x":162.5,"y":7},{"s":"K","x":165,"y":5},{"s":"K","x":167.5,"y":4},{"s":"K","x":170,"y":5},{"s":"K","x":172.5,"y":3},{"s":"K","x":175,"y":4},{"s":"K","x":177.5,"y":3},{"s":"K","x":180,"y":2},{"s":"K","x":182.5,"y":3},{"s":"K","x":185,"y":2},{"s":"K","x":187.5,"y":3},{"s":"K","x":190,"y":1},{"s":"K","x":192.5,"y":2},{"s":"K","x":195,"y":2},{"s":"K","x":197.5,"y":1},{"s":"K","x":200,"y":3},{"s":"K","x":202.5,"y":1},{"s":"K","x":205,"y":2},{"s":"K","x":207.5,"y":1},{"s":"K","x":210,"y":2},{"s":"K","x":212.5,"y":2},{"s":"K","x":215,"y":1},{"s":"K","x":217.5,"y":2},{"s":"K","x":220,"y":1},{"s":"K","x":222.5,"y":2},{"s":"K","x":225,"y":2},{"s":"K","x":227.5,"y":1},{"s":"K","x":230,"y":2},{"s":"K","x":232.5,"y":1},{"s":"K","x":235,"y":2},{"s":"K","x":237.5,"y":2},{"s":"K","x":240,"y":1},{"s":"K","x":242.5,"y":2},{"s":"K","x":245,"y":2},{"s":"K","x":247.5,"y":1},{"s":"K","x":250,"y":0},
{"s":"M","x":2.5,"y":0},{"s":"M","x":5,"y":1},{"s":"M","x":7.5,"y":5},{"s":"M","x":10,"y":25},{"s":"M","x":12.5,"y":85},{"s":"M","x":15,"y":200},{"s":"M","x":17.5,"y":390},{"s":"M","x":20,"y":660},{"s":"M","x":22.5,"y":1000},{"s":"M","x":25,"y":1400},{"s":"M","x":27.5,"y":1850},{"s":"M","x":30,"y":2300},{"s":"M","x":32.5,"y":2750},{"s":"M","x":35,"y":3150},{"s":"M","x":37.5,"y":3500},{"s":"M","x":40,"y":3800},{"s":"M","x":42.5,"y":4050},{"s":"M","x":45,"y":4250},{"s":"M","x":47.5,"y":4400},{"s":"M","x":50,"y":4500},{"s":"M","x":52.5,"y":4550},{"s":"M","x":55,"y":4500},{"s":"M","x":57.5,"y":4350},{"s":"M","x":60,"y":4150},{"s":"M","x":62.5,"y":3900},{"s":"M","x":65,"y":3650},{"s":"M","x":67.5,"y":3350},{"s":"M","x":70,"y":3050},{"s":"M","x":72.5,"y":2750},{"s":"M","x":75,"y":2480},{"s":"M","x":77.5,"y":2220},{"s":"M","x":80,"y":1980},{"s":"M","x":82.5,"y":1760},{"s":"M","x":85,"y":1560},{"s":"M","x":87.5,"y":1380},{"s":"M","x":90,"y":1210},{"s":"M","x":92.5,"y":1060},{"s":"M","x":95,"y":930},{"s":"M","x":97.5,"y":810},{"s":"M","x":100,"y":700},{"s":"M","x":102.5,"y":610},{"s":"M","x":105,"y":525},{"s":"M","x":107.5,"y":455},{"s":"M","x":110,"y":390},{"s":"M","x":112.5,"y":335},{"s":"M","x":115,"y":288},{"s":"M","x":117.5,"y":246},{"s":"M","x":120,"y":210},{"s":"M","x":122.5,"y":180},{"s":"M","x":125,"y":153},{"s":"M","x":127.5,"y":130},{"s":"M","x":130,"y":111},{"s":"M","x":132.5,"y":94},{"s":"M","x":135,"y":80},{"s":"M","x":137.5,"y":68},{"s":"M","x":140,"y":58},{"s":"M","x":142.5,"y":49},{"s":"M","x":145,"y":42},{"s":"M","x":147.5,"y":35},{"s":"M","x":150,"y":30},{"s":"M","x":152.5,"y":25},{"s":"M","x":155,"y":21},{"s":"M","x":157.5,"y":18},{"s":"M","x":160,"y":15},{"s":"M","x":162.5,"y":13},{"s":"M","x":165,"y":11},{"s":"M","x":167.5,"y":9},{"s":"M","x":170,"y":10},{"s":"M","x":172.5,"y":7},{"s":"M","x":175,"y":8},{"s":"M","x":177.5,"y":6},{"s":"M","x":180,"y":5},{"s":"M","x":182.5,"y":6},{"s":"M","x":185,"y":4},{"s":"M","x":187.5,"y":5},{"s":"M","x":190,"y":3},{"s":"M","x":192.5,"y":4},{"s":"M","x":195,"y":5},{"s":"M","x":197.5,"y":3},{"s":"M","x":200,"y":4},{"s":"M","x":202.5,"y":2},{"s":"M","x":205,"y":3},{"s":"M","x":207.5,"y":4},{"s":"M","x":210,"y":2},{"s":"M","x":212.5,"y":3},{"s":"M","x":215,"y":2},{"s":"M","x":217.5,"y":3},{"s":"M","x":220,"y":1},{"s":"M","x":222.5,"y":3},{"s":"M","x":225,"y":2},{"s":"M","x":227.5,"y":2},{"s":"M","x":230,"y":3},{"s":"M","x":232.5,"y":1},{"s":"M","x":235,"y":2},{"s":"M","x":237.5,"y":3},{"s":"M","x":240,"y":2},{"s":"M","x":242.5,"y":1},{"s":"M","x":245,"y":2},{"s":"M","x":247.5,"y":3},{"s":"M","x":250,"y":0},
{"s":"Z","x":5,"y":0},{"s":"Z","x":7.5,"y":1},{"s":"Z","x":10,"y":8},{"s":"Z","x":12.5,"y":30},{"s":"Z","x":15,"y":85},{"s":"Z","x":17.5,"y":190},{"s":"Z","x":20,"y":350},{"s":"Z","x":22.5,"y":560},{"s":"Z","x":25,"y":820},{"s":"Z","x":27.5,"y":1110},{"s":"Z","x":30,"y":1420},{"s":"Z","x":32.5,"y":1740},{"s":"Z","x":35,"y":2060},{"s":"Z","x":37.5,"y":2370},{"s":"Z","x":40,"y":2660},{"s":"Z","x":42.5,"y":2930},{"s":"Z","x":45,"y":3170},{"s":"Z","x":47.5,"y":3380},{"s":"Z","x":50,"y":3550},{"s":"Z","x":52.5,"y":3680},{"s":"Z","x":55,"y":3760},{"s":"Z","x":57.5,"y":3790},{"s":"Z","x":60,"y":3770},{"s":"Z","x":62.5,"y":3700},{"s":"Z","x":65,"y":3580},{"s":"Z","x":67.5,"y":3430},{"s":"Z","x":70,"y":3250},{"s":"Z","x":72.5,"y":3050},{"s":"Z","x":75,"y":2840},{"s":"Z","x":77.5,"y":2620},{"s":"Z","x":80,"y":2400},{"s":"Z","x":82.5,"y":2190},{"s":"Z","x":85,"y":1990},{"s":"Z","x":87.5,"y":1800},{"s":"Z","x":90,"y":1620},{"s":"Z","x":92.5,"y":1450},{"s":"Z","x":95,"y":1300},{"s":"Z","x":97.5,"y":1160},{"s":"Z","x":100,"y":1030},{"s":"Z","x":102.5,"y":910},{"s":"Z","x":105,"y":805},{"s":"Z","x":107.5,"y":710},{"s":"Z","x":110,"y":625},{"s":"Z","x":112.5,"y":548},{"s":"Z","x":115,"y":480},{"s":"Z","x":117.5,"y":420},{"s":"Z","x":120,"y":367},{"s":"Z","x":122.5,"y":320},{"s":"Z","x":125,"y":279},{"s":"Z","x":127.5,"y":243},{"s":"Z","x":130,"y":211},{"s":"Z","x":132.5,"y":183},{"s":"Z","x":135,"y":159},{"s":"Z","x":137.5,"y":138},{"s":"Z","x":140,"y":119},{"s":"Z","x":142.5,"y":103},{"s":"Z","x":145,"y":89},{"s":"Z","x":147.5,"y":77},{"s":"Z","x":150,"y":66},{"s":"Z","x":152.5,"y":57},{"s":"Z","x":155,"y":49},{"s":"Z","x":157.5,"y":42},{"s":"Z","x":160,"y":36},{"s":"Z","x":162.5,"y":31},{"s":"Z","x":165,"y":27},{"s":"Z","x":167.5,"y":23},{"s":"Z","x":170,"y":20},{"s":"Z","x":172.5,"y":17},{"s":"Z","x":175,"y":14},{"s":"Z","x":177.5,"y":12},{"s":"Z","x":180,"y":11},{"s":"Z","x":182.5,"y":9},{"s":"Z","x":185,"y":8},{"s":"Z","x":187.5,"y":7},{"s":"Z","x":190,"y":6},{"s":"Z","x":192.5,"y":7},{"s":"Z","x":195,"y":5},{"s":"Z","x":197.5,"y":4},{"s":"Z","x":200,"y":5},{"s":"Z","x":202.5,"y":3},{"s":"Z","x":205,"y":4},{"s":"Z","x":207.5,"y":3},{"s":"Z","x":210,"y":2},{"s":"Z","x":212.5,"y":4},{"s":"Z","x":215,"y":2},{"s":"Z","x":217.5,"y":3},{"s":"Z","x":220,"y":2},{"s":"Z","x":222.5,"y":1},{"s":"Z","x":225,"y":3},{"s":"Z","x":227.5,"y":2},{"s":"Z","x":230,"y":1},{"s":"Z","x":232.5,"y":2},{"s":"Z","x":235,"y":2},{"s":"Z","x":237.5,"y":1},{"s":"Z","x":240,"y":2},{"s":"Z","x":242.5,"y":3},{"s":"Z","x":245,"y":1},{"s":"Z","x":247.5,"y":2},{"s":"Z","x":250,"y":0},
{"s":"O","x":12.5,"y":0},{"s":"O","x":15,"y":2},{"s":"O","x":17.5,"y":6},{"s":"O","x":20,"y":20},{"s":"O","x":22.5,"y":50},{"s":"O","x":25,"y":100},{"s":"O","x":27.5,"y":180},{"s":"O","x":30,"y":300},{"s":"O","x":32.5,"y":450},{"s":"O","x":35,"y":640},{"s":"O","x":37.5,"y":850},{"s":"O","x":40,"y":1080},{"s":"O","x":42.5,"y":1320},{"s":"O","x":45,"y":1560},{"s":"O","x":47.5,"y":1800},{"s":"O","x":50,"y":2020},{"s":"O","x":52.5,"y":2230},{"s":"O","x":55,"y":2420},{"s":"O","x":57.5,"y":2600},{"s":"O","x":60,"y":2750},{"s":"O","x":62.5,"y":2880},{"s":"O","x":65,"y":2980},{"s":"O","x":67.5,"y":3050},{"s":"O","x":70,"y":3080},{"s":"O","x":72.5,"y":3050},{"s":"O","x":75,"y":3000},{"s":"O","x":77.5,"y":2900},{"s":"O","x":80,"y":2780},{"s":"O","x":82.5,"y":2650},{"s":"O","x":85,"y":2500},{"s":"O","x":87.5,"y":2330},{"s":"O","x":90,"y":2150},{"s":"O","x":92.5,"y":1980},{"s":"O","x":95,"y":1800},{"s":"O","x":97.5,"y":1640},{"s":"O","x":100,"y":1480},{"s":"O","x":102.5,"y":1330},{"s":"O","x":105,"y":1190},{"s":"O","x":107.5,"y":1060},{"s":"O","x":110,"y":940},{"s":"O","x":112.5,"y":830},{"s":"O","x":115,"y":730},{"s":"O","x":117.5,"y":640},{"s":"O","x":120,"y":560},{"s":"O","x":122.5,"y":490},{"s":"O","x":125,"y":430},{"s":"O","x":127.5,"y":375},{"s":"O","x":130,"y":325},{"s":"O","x":132.5,"y":282},{"s":"O","x":135,"y":245},{"s":"O","x":137.5,"y":212},{"s":"O","x":140,"y":184},{"s":"O","x":142.5,"y":160},{"s":"O","x":145,"y":138},{"s":"O","x":147.5,"y":120},{"s":"O","x":150,"y":104},{"s":"O","x":152.5,"y":90},{"s":"O","x":155,"y":77},{"s":"O","x":157.5,"y":66},{"s":"O","x":160,"y":57},{"s":"O","x":162.5,"y":49},{"s":"O","x":165,"y":42},{"s":"O","x":167.5,"y":36},{"s":"O","x":170,"y":31},{"s":"O","x":172.5,"y":27},{"s":"O","x":175,"y":23},{"s":"O","x":177.5,"y":20},{"s":"O","x":180,"y":17},{"s":"O","x":182.5,"y":15},{"s":"O","x":185,"y":12},{"s":"O","x":187.5,"y":11},{"s":"O","x":190,"y":9},{"s":"O","x":192.5,"y":8},{"s":"O","x":195,"y":9},{"s":"O","x":197.5,"y":6},{"s":"O","x":200,"y":7},{"s":"O","x":202.5,"y":5},{"s":"O","x":205,"y":4},{"s":"O","x":207.5,"y":6},{"s":"O","x":210,"y":3},{"s":"O","x":212.5,"y":5},{"s":"O","x":215,"y":4},{"s":"O","x":217.5,"y":2},{"s":"O","x":220,"y":4},{"s":"O","x":222.5,"y":3},{"s":"O","x":225,"y":2},{"s":"O","x":227.5,"y":4},{"s":"O","x":230,"y":3},{"s":"O","x":232.5,"y":1},{"s":"O","x":235,"y":3},{"s":"O","x":237.5,"y":2},{"s":"O","x":240,"y":3},{"s":"O","x":242.5,"y":1},{"s":"O","x":245,"y":2},{"s":"O","x":247.5,"y":3},{"s":"O","x":250,"y":0},
{"s":"E","x":10,"y":0},{"s":"E","x":12.5,"y":1},{"s":"E","x":15,"y":3},{"s":"E","x":17.5,"y":12},{"s":"E","x":20,"y":35},{"s":"E","x":22.5,"y":80},{"s":"E","x":25,"y":160},{"s":"E","x":27.5,"y":280},{"s":"E","x":30,"y":440},{"s":"E","x":32.5,"y":640},{"s":"E","x":35,"y":880},{"s":"E","x":37.5,"y":1130},{"s":"E","x":40,"y":1400},{"s":"E","x":42.5,"y":1680},{"s":"E","x":45,"y":1950},{"s":"E","x":47.5,"y":2200},{"s":"E","x":50,"y":2450},{"s":"E","x":52.5,"y":2650},{"s":"E","x":55,"y":2850},{"s":"E","x":57.5,"y":3000},{"s":"E","x":60,"y":3150},{"s":"E","x":62.5,"y":3250},{"s":"E","x":65,"y":3300},{"s":"E","x":67.5,"y":3250},{"s":"E","x":70,"y":3150},{"s":"E","x":72.5,"y":3000},{"s":"E","x":75,"y":2850},{"s":"E","x":77.5,"y":2650},{"s":"E","x":80,"y":2450},{"s":"E","x":82.5,"y":2250},{"s":"E","x":85,"y":2050},{"s":"E","x":87.5,"y":1850},{"s":"E","x":90,"y":1650},{"s":"E","x":92.5,"y":1480},{"s":"E","x":95,"y":1320},{"s":"E","x":97.5,"y":1170},{"s":"E","x":100,"y":1030},{"s":"E","x":102.5,"y":900},{"s":"E","x":105,"y":790},{"s":"E","x":107.5,"y":690},{"s":"E","x":110,"y":600},{"s":"E","x":112.5,"y":520},{"s":"E","x":115,"y":450},{"s":"E","x":117.5,"y":390},{"s":"E","x":120,"y":335},{"s":"E","x":122.5,"y":290},{"s":"E","x":125,"y":250},{"s":"E","x":127.5,"y":215},{"s":"E","x":130,"y":185},{"s":"E","x":132.5,"y":158},{"s":"E","x":135,"y":135},{"s":"E","x":137.5,"y":116},{"s":"E","x":140,"y":100},{"s":"E","x":142.5,"y":86},{"s":"E","x":145,"y":74},{"s":"E","x":147.5,"y":63},{"s":"E","x":150,"y":54},{"s":"E","x":152.5,"y":46},{"s":"E","x":155,"y":40},{"s":"E","x":157.5,"y":34},{"s":"E","x":160,"y":29},{"s":"E","x":162.5,"y":25},{"s":"E","x":165,"y":21},{"s":"E","x":167.5,"y":18},{"s":"E","x":170,"y":16},{"s":"E","x":172.5,"y":13},{"s":"E","x":175,"y":12},{"s":"E","x":177.5,"y":10},{"s":"E","x":180,"y":9},{"s":"E","x":182.5,"y":8},{"s":"E","x":185,"y":6},{"s":"E","x":187.5,"y":7},{"s":"E","x":190,"y":5},{"s":"E","x":192.5,"y":4},{"s":"E","x":195,"y":6},{"s":"E","x":197.5,"y":3},{"s":"E","x":200,"y":4},{"s":"E","x":202.5,"y":5},{"s":"E","x":205,"y":3},{"s":"E","x":207.5,"y":2},{"s":"E","x":210,"y":4},{"s":"E","x":212.5,"y":3},{"s":"E","x":215,"y":2},{"s":"E","x":217.5,"y":3},{"s":"E","x":220,"y":1},{"s":"E","x":222.5,"y":2},{"s":"E","x":225,"y":3},{"s":"E","x":227.5,"y":1},{"s":"E","x":230,"y":2},{"s":"E","x":232.5,"y":2},{"s":"E","x":235,"y":1},{"s":"E","x":237.5,"y":3},{"s":"E","x":240,"y":1},{"s":"E","x":242.5,"y":2},{"s":"E","x":245,"y":1},{"s":"E","x":247.5,"y":2},{"s":"E","x":250,"y":0},
{"s":"X","x":12.5,"y":0},{"s":"X","x":15,"y":2},{"s":"X","x":17.5,"y":7},{"s":"X","x":20,"y":22},{"s":"X","x":22.5,"y":52},{"s":"X","x":25,"y":105},{"s":"X","x":27.5,"y":185},{"s":"X","x":30,"y":300},{"s":"X","x":32.5,"y":440},{"s":"X","x":35,"y":610},{"s":"X","x":37.5,"y":800},{"s":"X","x":40,"y":1000},{"s":"X","x":42.5,"y":1210},{"s":"X","x":45,"y":1420},{"s":"X","x":47.5,"y":1630},{"s":"X","x":50,"y":1830},{"s":"X","x":52.5,"y":2020},{"s":"X","x":55,"y":2200},{"s":"X","x":57.5,"y":2380},{"s":"X","x":60,"y":2540},{"s":"X","x":62.5,"y":2680},{"s":"X","x":65,"y":2800},{"s":"X","x":67.5,"y":2900},{"s":"X","x":70,"y":2970},{"s":"X","x":72.5,"y":3000},{"s":"X","x":75,"y":2980},{"s":"X","x":77.5,"y":2920},{"s":"X","x":80,"y":2830},{"s":"X","x":82.5,"y":2710},{"s":"X","x":85,"y":2570},{"s":"X","x":87.5,"y":2420},{"s":"X","x":90,"y":2260},{"s":"X","x":92.5,"y":2090},{"s":"X","x":95,"y":1920},{"s":"X","x":97.5,"y":1760},{"s":"X","x":100,"y":1600},{"s":"X","x":102.5,"y":1450},{"s":"X","x":105,"y":1310},{"s":"X","x":107.5,"y":1180},{"s":"X","x":110,"y":1060},{"s":"X","x":112.5,"y":950},{"s":"X","x":115,"y":845},{"s":"X","x":117.5,"y":750},{"s":"X","x":120,"y":665},{"s":"X","x":122.5,"y":588},{"s":"X","x":125,"y":518},{"s":"X","x":127.5,"y":456},{"s":"X","x":130,"y":400},{"s":"X","x":132.5,"y":350},{"s":"X","x":135,"y":306},{"s":"X","x":137.5,"y":267},{"s":"X","x":140,"y":232},{"s":"X","x":142.5,"y":202},{"s":"X","x":145,"y":176},{"s":"X","x":147.5,"y":152},{"s":"X","x":150,"y":132},{"s":"X","x":152.5,"y":114},{"s":"X","x":155,"y":99},{"s":"X","x":157.5,"y":85},{"s":"X","x":160,"y":74},{"s":"X","x":162.5,"y":64},{"s":"X","x":165,"y":55},{"s":"X","x":167.5,"y":47},{"s":"X","x":170,"y":41},{"s":"X","x":172.5,"y":35},{"s":"X","x":175,"y":30},{"s":"X","x":177.5,"y":26},{"s":"X","x":180,"y":22},{"s":"X","x":182.5,"y":19},{"s":"X","x":185,"y":17},{"s":"X","x":187.5,"y":14},{"s":"X","x":190,"y":12},{"s":"X","x":192.5,"y":11},{"s":"X","x":195,"y":9},{"s":"X","x":197.5,"y":8},{"s":"X","x":200,"y":7},{"s":"X","x":202.5,"y":8},{"s":"X","x":205,"y":6},{"s":"X","x":207.5,"y":5},{"s":"X","x":210,"y":6},{"s":"X","x":212.5,"y":4},{"s":"X","x":215,"y":5},{"s":"X","x":217.5,"y":3},{"s":"X","x":220,"y":4},{"s":"X","x":222.5,"y":5},{"s":"X","x":225,"y":3},{"s":"X","x":227.5,"y":4},{"s":"X","x":230,"y":2},{"s":"X","x":232.5,"y":3},{"s":"X","x":235,"y":4},{"s":"X","x":237.5,"y":2},{"s":"X","x":240,"y":3},{"s":"X","x":242.5,"y":2},{"s":"X","x":245,"y":4},{"s":"X","x":247.5,"y":3},{"s":"X","x":250,"y":0},
{"s":"R","x":12.5,"y":0},{"s":"R","x":15,"y":1},{"s":"R","x":17.5,"y":3},{"s":"R","x":20,"y":10},{"s":"R","x":22.5,"y":28},{"s":"R","x":25,"y":60},{"s":"R","x":27.5,"y":120},{"s":"R","x":30,"y":210},{"s":"R","x":32.5,"y":340},{"s":"R","x":35,"y":500},{"s":"R","x":37.5,"y":700},{"s":"R","x":40,"y":920},{"s":"R","x":42.5,"y":1150},{"s":"R","x":45,"y":1400},{"s":"R","x":47.5,"y":1650},{"s":"R","x":50,"y":1900},{"s":"R","x":52.5,"y":2150},{"s":"R","x":55,"y":2400},{"s":"R","x":57.5,"y":2600},{"s":"R","x":60,"y":2800},{"s":"R","x":62.5,"y":2950},{"s":"R","x":65,"y":3100},{"s":"R","x":67.5,"y":3250},{"s":"R","x":70,"y":3350},{"s":"R","x":72.5,"y":3400},{"s":"R","x":75,"y":3450},{"s":"R","x":77.5,"y":3400},{"s":"R","x":80,"y":3350},{"s":"R","x":82.5,"y":3250},{"s":"R","x":85,"y":3100},{"s":"R","x":87.5,"y":2950},{"s":"R","x":90,"y":2800},{"s":"R","x":92.5,"y":2600},{"s":"R","x":95,"y":2400},{"s":"R","x":97.5,"y":2250},{"s":"R","x":100,"y":2050},{"s":"R","x":102.5,"y":1900},{"s":"R","x":105,"y":1700},{"s":"R","x":107.5,"y":1550},{"s":"R","x":110,"y":1400},{"s":"R","x":112.5,"y":1250},{"s":"R","x":115,"y":1120},{"s":"R","x":117.5,"y":1000},{"s":"R","x":120,"y":880},{"s":"R","x":122.5,"y":780},{"s":"R","x":125,"y":690},{"s":"R","x":127.5,"y":600},{"s":"R","x":130,"y":530},{"s":"R","x":132.5,"y":460},{"s":"R","x":135,"y":400},{"s":"R","x":137.5,"y":350},{"s":"R","x":140,"y":300},{"s":"R","x":142.5,"y":262},{"s":"R","x":145,"y":225},{"s":"R","x":147.5,"y":195},{"s":"R","x":150,"y":170},{"s":"R","x":152.5,"y":145},{"s":"R","x":155,"y":125},{"s":"R","x":157.5,"y":108},{"s":"R","x":160,"y":92},{"s":"R","x":162.5,"y":80},{"s":"R","x":165,"y":68},{"s":"R","x":167.5,"y":58},{"s":"R","x":170,"y":50},{"s":"R","x":172.5,"y":44},{"s":"R","x":175,"y":37},{"s":"R","x":177.5,"y":32},{"s":"R","x":180,"y":27},{"s":"R","x":182.5,"y":24},{"s":"R","x":185,"y":21},{"s":"R","x":187.5,"y":17},{"s":"R","x":190,"y":15},{"s":"R","x":192.5,"y":14},{"s":"R","x":195,"y":12},{"s":"R","x":197.5,"y":10},{"s":"R","x":200,"y":11},{"s":"R","x":202.5,"y":8},{"s":"R","x":205,"y":9},{"s":"R","x":207.5,"y":7},{"s":"R","x":210,"y":6},{"s":"R","x":212.5,"y":8},{"s":"R","x":215,"y":5},{"s":"R","x":217.5,"y":6},{"s":"R","x":220,"y":5},{"s":"R","x":222.5,"y":4},{"s":"R","x":225,"y":6},{"s":"R","x":227.5,"y":3},{"s":"R","x":230,"y":5},{"s":"R","x":232.5,"y":4},{"s":"R","x":235,"y":3},{"s":"R","x":237.5,"y":5},{"s":"R","x":240,"y":2},{"s":"R","x":242.5,"y":4},{"s":"R","x":245,"y":3},{"s":"R","x":247.5,"y":6},{"s":"R","x":250,"y":0},
{"s":"D","x":15,"y":0},{"s":"D","x":17.5,"y":1},{"s":"D","x":20,"y":4},{"s":"D","x":22.5,"y":12},{"s":"D","x":25,"y":30},{"s":"D","x":27.5,"y":65},{"s":"D","x":30,"y":120},{"s":"D","x":32.5,"y":200},{"s":"D","x":35,"y":310},{"s":"D","x":37.5,"y":450},{"s":"D","x":40,"y":620},{"s":"D","x":42.5,"y":820},{"s":"D","x":45,"y":1030},{"s":"D","x":47.5,"y":1250},{"s":"D","x":50,"y":1480},{"s":"D","x":52.5,"y":1700},{"s":"D","x":55,"y":1920},{"s":"D","x":57.5,"y":2150},{"s":"D","x":60,"y":2350},{"s":"D","x":62.5,"y":2550},{"s":"D","x":65,"y":2750},{"s":"D","x":67.5,"y":2900},{"s":"D","x":70,"y":3050},{"s":"D","x":72.5,"y":3200},{"s":"D","x":75,"y":3300},{"s":"D","x":77.5,"y":3400},{"s":"D","x":80,"y":3450},{"s":"D","x":82.5,"y":3450},{"s":"D","x":85,"y":3400},{"s":"D","x":87.5,"y":3300},{"s":"D","x":90,"y":3150},{"s":"D","x":92.5,"y":3000},{"s":"D","x":95,"y":2850},{"s":"D","x":97.5,"y":2650},{"s":"D","x":100,"y":2450},{"s":"D","x":102.5,"y":2250},{"s":"D","x":105,"y":2080},{"s":"D","x":107.5,"y":1900},{"s":"D","x":110,"y":1720},{"s":"D","x":112.5,"y":1550},{"s":"D","x":115,"y":1400},{"s":"D","x":117.5,"y":1260},{"s":"D","x":120,"y":1120},{"s":"D","x":122.5,"y":1000},{"s":"D","x":125,"y":890},{"s":"D","x":127.5,"y":790},{"s":"D","x":130,"y":700},{"s":"D","x":132.5,"y":620},{"s":"D","x":135,"y":540},{"s":"D","x":137.5,"y":480},{"s":"D","x":140,"y":420},{"s":"D","x":142.5,"y":370},{"s":"D","x":145,"y":320},{"s":"D","x":147.5,"y":280},{"s":"D","x":150,"y":245},{"s":"D","x":152.5,"y":212},{"s":"D","x":155,"y":185},{"s":"D","x":157.5,"y":160},{"s":"D","x":160,"y":140},{"s":"D","x":162.5,"y":120},{"s":"D","x":165,"y":104},{"s":"D","x":167.5,"y":90},{"s":"D","x":170,"y":78},{"s":"D","x":172.5,"y":68},{"s":"D","x":175,"y":58},{"s":"D","x":177.5,"y":50},{"s":"D","x":180,"y":44},{"s":"D","x":182.5,"y":38},{"s":"D","x":185,"y":32},{"s":"D","x":187.5,"y":28},{"s":"D","x":190,"y":24},{"s":"D","x":192.5,"y":20},{"s":"D","x":195,"y":18},{"s":"D","x":197.5,"y":15},{"s":"D","x":200,"y":14},{"s":"D","x":202.5,"y":12},{"s":"D","x":205,"y":10},{"s":"D","x":207.5,"y":11},{"s":"D","x":210,"y":8},{"s":"D","x":212.5,"y":9},{"s":"D","x":215,"y":7},{"s":"D","x":217.5,"y":6},{"s":"D","x":220,"y":8},{"s":"D","x":222.5,"y":5},{"s":"D","x":225,"y":6},{"s":"D","x":227.5,"y":7},{"s":"D","x":230,"y":5},{"s":"D","x":232.5,"y":4},{"s":"D","x":235,"y":6},{"s":"D","x":237.5,"y":4},{"s":"D","x":240,"y":5},{"s":"D","x":242.5,"y":3},{"s":"D","x":245,"y":5},{"s":"D","x":247.5,"y":5},{"s":"D","x":250,"y":0},
{"s":"W","x":17.5,"y":0},{"s":"W","x":20,"y":1},{"s":"W","x":22.5,"y":4},{"s":"W","x":25,"y":12},{"s":"W","x":27.5,"y":30},{"s":"W","x":30,"y":62},{"s":"W","x":32.5,"y":110},{"s":"W","x":35,"y":180},{"s":"W","x":37.5,"y":270},{"s":"W","x":40,"y":390},{"s":"W","x":42.5,"y":530},{"s":"W","x":45,"y":690},{"s":"W","x":47.5,"y":870},{"s":"W","x":50,"y":1060},{"s":"W","x":52.5,"y":1260},{"s":"W","x":55,"y":1460},{"s":"W","x":57.5,"y":1660},{"s":"W","x":60,"y":1850},{"s":"W","x":62.5,"y":2040},{"s":"W","x":65,"y":2220},{"s":"W","x":67.5,"y":2400},{"s":"W","x":70,"y":2560},{"s":"W","x":72.5,"y":2720},{"s":"W","x":75,"y":2850},{"s":"W","x":77.5,"y":2970},{"s":"W","x":80,"y":3080},{"s":"W","x":82.5,"y":3170},{"s":"W","x":85,"y":3230},{"s":"W","x":87.5,"y":3270},{"s":"W","x":90,"y":3280},{"s":"W","x":92.5,"y":3250},{"s":"W","x":95,"y":3180},{"s":"W","x":97.5,"y":3080},{"s":"W","x":100,"y":2950},{"s":"W","x":102.5,"y":2800},{"s":"W","x":105,"y":2640},{"s":"W","x":107.5,"y":2470},{"s":"W","x":110,"y":2290},{"s":"W","x":112.5,"y":2110},{"s":"W","x":115,"y":1930},{"s":"W","x":117.5,"y":1760},{"s":"W","x":120,"y":1600},{"s":"W","x":122.5,"y":1440},{"s":"W","x":125,"y":1300},{"s":"W","x":127.5,"y":1160},{"s":"W","x":130,"y":1040},{"s":"W","x":132.5,"y":925},{"s":"W","x":135,"y":820},{"s":"W","x":137.5,"y":725},{"s":"W","x":140,"y":640},{"s":"W","x":142.5,"y":565},{"s":"W","x":145,"y":495},{"s":"W","x":147.5,"y":435},{"s":"W","x":150,"y":380},{"s":"W","x":152.5,"y":332},{"s":"W","x":155,"y":290},{"s":"W","x":157.5,"y":252},{"s":"W","x":160,"y":219},{"s":"W","x":162.5,"y":190},{"s":"W","x":165,"y":165},{"s":"W","x":167.5,"y":142},{"s":"W","x":170,"y":123},{"s":"W","x":172.5,"y":106},{"s":"W","x":175,"y":92},{"s":"W","x":177.5,"y":79},{"s":"W","x":180,"y":68},{"s":"W","x":182.5,"y":58},{"s":"W","x":185,"y":50},{"s":"W","x":187.5,"y":43},{"s":"W","x":190,"y":37},{"s":"W","x":192.5,"y":32},{"s":"W","x":195,"y":27},{"s":"W","x":197.5,"y":23},{"s":"W","x":200,"y":20},{"s":"W","x":202.5,"y":17},{"s":"W","x":205,"y":15},{"s":"W","x":207.5,"y":13},{"s":"W","x":210,"y":11},{"s":"W","x":212.5,"y":9},{"s":"W","x":215,"y":10},{"s":"W","x":217.5,"y":8},{"s":"W","x":220,"y":7},{"s":"W","x":222.5,"y":6},{"s":"W","x":225,"y":7},{"s":"W","x":227.5,"y":5},{"s":"W","x":230,"y":6},{"s":"W","x":232.5,"y":4},{"s":"W","x":235,"y":5},{"s":"W","x":237.5,"y":6},{"s":"W","x":240,"y":4},{"s":"W","x":242.5,"y":5},{"s":"W","x":245,"y":4},{"s":"W","x":247.5,"y":6},{"s":"W","x":250,"y":0},
{"s":"C","x":20,"y":0},{"s":"C","x":22.5,"y":1},{"s":"C","x":25,"y":2},{"s":"C","x":27.5,"y":5},{"s":"C","x":30,"y":10},{"s":"C","x":32.5,"y":20},{"s":"C","x":35,"y":38},{"s":"C","x":37.5,"y":62},{"s":"C","x":40,"y":95},{"s":"C","x":42.5,"y":150},{"s":"C","x":45,"y":220},{"s":"C","x":47.5,"y":300},{"s":"C","x":50,"y":420},{"s":"C","x":52.5,"y":550},{"s":"C","x":55,"y":700},{"s":"C","x":57.5,"y":860},{"s":"C","x":60,"y":1000},{"s":"C","x":62.5,"y":1150},{"s":"C","x":65,"y":1300},{"s":"C","x":67.5,"y":1450},{"s":"C","x":70,"y":1600},{"s":"C","x":72.5,"y":1720},{"s":"C","x":75,"y":1850},{"s":"C","x":77.5,"y":1950},{"s":"C","x":80,"y":2000},{"s":"C","x":82.5,"y":2050},{"s":"C","x":85,"y":2050},{"s":"C","x":87.5,"y":2000},{"s":"C","x":90,"y":1950},{"s":"C","x":92.5,"y":1850},{"s":"C","x":95,"y":1750},{"s":"C","x":97.5,"y":1650},{"s":"C","x":100,"y":1500},{"s":"C","x":102.5,"y":1400},{"s":"C","x":105,"y":1250},{"s":"C","x":107.5,"y":1150},{"s":"C","x":110,"y":1040},{"s":"C","x":112.5,"y":930},{"s":"C","x":115,"y":840},{"s":"C","x":117.5,"y":740},{"s":"C","x":120,"y":660},{"s":"C","x":122.5,"y":590},{"s":"C","x":125,"y":520},{"s":"C","x":127.5,"y":460},{"s":"C","x":130,"y":410},{"s":"C","x":132.5,"y":360},{"s":"C","x":135,"y":320},{"s":"C","x":137.5,"y":280},{"s":"C","x":140,"y":245},{"s":"C","x":142.5,"y":215},{"s":"C","x":145,"y":190},{"s":"C","x":147.5,"y":165},{"s":"C","x":150,"y":145},{"s":"C","x":152.5,"y":125},{"s":"C","x":155,"y":112},{"s":"C","x":157.5,"y":96},{"s":"C","x":160,"y":84},{"s":"C","x":162.5,"y":72},{"s":"C","x":165,"y":64},{"s":"C","x":167.5,"y":55},{"s":"C","x":170,"y":48},{"s":"C","x":172.5,"y":40},{"s":"C","x":175,"y":36},{"s":"C","x":177.5,"y":31},{"s":"C","x":180,"y":28},{"s":"C","x":182.5,"y":24},{"s":"C","x":185,"y":20},{"s":"C","x":187.5,"y":18},{"s":"C","x":190,"y":15},{"s":"C","x":192.5,"y":13},{"s":"C","x":195,"y":12},{"s":"C","x":197.5,"y":10},{"s":"C","x":200,"y":8},{"s":"C","x":202.5,"y":9},{"s":"C","x":205,"y":7},{"s":"C","x":207.5,"y":6},{"s":"C","x":210,"y":8},{"s":"C","x":212.5,"y":5},{"s":"C","x":215,"y":6},{"s":"C","x":217.5,"y":4},{"s":"C","x":220,"y":5},{"s":"C","x":222.5,"y":3},{"s":"C","x":225,"y":4},{"s":"C","x":227.5,"y":5},{"s":"C","x":230,"y":3},{"s":"C","x":232.5,"y":4},{"s":"C","x":235,"y":2},{"s":"C","x":237.5,"y":3},{"s":"C","x":240,"y":4},{"s":"C","x":242.5,"y":2},{"s":"C","x":245,"y":3},{"s":"C","x":247.5,"y":2},{"s":"C","x":250,"y":0},
{"s":"B","x":20,"y":0},{"s":"B","x":22.5,"y":1},{"s":"B","x":25,"y":3},{"s":"B","x":27.5,"y":8},{"s":"B","x":30,"y":18},{"s":"B","x":32.5,"y":35},{"s":"B","x":35,"y":65},{"s":"B","x":37.5,"y":110},{"s":"B","x":40,"y":170},{"s":"B","x":42.5,"y":260},{"s":"B","x":45,"y":380},{"s":"B","x":47.5,"y":520},{"s":"B","x":50,"y":680},{"s":"B","x":52.5,"y":860},{"s":"B","x":55,"y":1040},{"s":"B","x":57.5,"y":1230},{"s":"B","x":60,"y":1420},{"s":"B","x":62.5,"y":1600},{"s":"B","x":65,"y":1780},{"s":"B","x":67.5,"y":1950},{"s":"B","x":70,"y":2100},{"s":"B","x":72.5,"y":2250},{"s":"B","x":75,"y":2380},{"s":"B","x":77.5,"y":2500},{"s":"B","x":80,"y":2620},{"s":"B","x":82.5,"y":2700},{"s":"B","x":85,"y":2800},{"s":"B","x":87.5,"y":2850},{"s":"B","x":90,"y":2900},{"s":"B","x":92.5,"y":2900},{"s":"B","x":95,"y":2850},{"s":"B","x":97.5,"y":2800},{"s":"B","x":100,"y":2700},{"s":"B","x":102.5,"y":2600},{"s":"B","x":105,"y":2450},{"s":"B","x":107.5,"y":2350},{"s":"B","x":110,"y":2200},{"s":"B","x":112.5,"y":2050},{"s":"B","x":115,"y":1900},{"s":"B","x":117.5,"y":1800},{"s":"B","x":120,"y":1650},{"s":"B","x":122.5,"y":1500},{"s":"B","x":125,"y":1400},{"s":"B","x":127.5,"y":1280},{"s":"B","x":130,"y":1150},{"s":"B","x":132.5,"y":1060},{"s":"B","x":135,"y":950},{"s":"B","x":137.5,"y":860},{"s":"B","x":140,"y":780},{"s":"B","x":142.5,"y":700},{"s":"B","x":145,"y":620},{"s":"B","x":147.5,"y":560},{"s":"B","x":150,"y":500},{"s":"B","x":152.5,"y":440},{"s":"B","x":155,"y":390},{"s":"B","x":157.5,"y":345},{"s":"B","x":160,"y":300},{"s":"B","x":162.5,"y":262},{"s":"B","x":165,"y":235},{"s":"B","x":167.5,"y":200},{"s":"B","x":170,"y":180},{"s":"B","x":172.5,"y":160},{"s":"B","x":175,"y":140},{"s":"B","x":177.5,"y":118},{"s":"B","x":180,"y":105},{"s":"B","x":182.5,"y":92},{"s":"B","x":185,"y":80},{"s":"B","x":187.5,"y":72},{"s":"B","x":190,"y":60},{"s":"B","x":192.5,"y":55},{"s":"B","x":195,"y":46},{"s":"B","x":197.5,"y":42},{"s":"B","x":200,"y":36},{"s":"B","x":202.5,"y":30},{"s":"B","x":205,"y":28},{"s":"B","x":207.5,"y":24},{"s":"B","x":210,"y":20},{"s":"B","x":212.5,"y":17},{"s":"B","x":215,"y":15},{"s":"B","x":217.5,"y":14},{"s":"B","x":220,"y":11},{"s":"B","x":222.5,"y":12},{"s":"B","x":225,"y":9},{"s":"B","x":227.5,"y":10},{"s":"B","x":230,"y":8},{"s":"B","x":232.5,"y":7},{"s":"B","x":235,"y":8},{"s":"B","x":237.5,"y":6},{"s":"B","x":240,"y":5},{"s":"B","x":242.5,"y":7},{"s":"B","x":245,"y":5},{"s":"B","x":247.5,"y":6},{"s":"B","x":250,"y":0},
{"s":"A","x":17.5,"y":0},{"s":"A","x":20,"y":1},{"s":"A","x":22.5,"y":2},{"s":"A","x":25,"y":4},{"s":"A","x":27.5,"y":10},{"s":"A","x":30,"y":22},{"s":"A","x":32.5,"y":40},{"s":"A","x":35,"y":75},{"s":"A","x":37.5,"y":120},{"s":"A","x":40,"y":190},{"s":"A","x":42.5,"y":280},{"s":"A","x":45,"y":400},{"s":"A","x":47.5,"y":540},{"s":"A","x":50,"y":700},{"s":"A","x":52.5,"y":880},{"s":"A","x":55,"y":1060},{"s":"A","x":57.5,"y":1250},{"s":"A","x":60,"y":1430},{"s":"A","x":62.5,"y":1620},{"s":"A","x":65,"y":1800},{"s":"A","x":67.5,"y":1950},{"s":"A","x":70,"y":2100},{"s":"A","x":72.5,"y":2250},{"s":"A","x":75,"y":2400},{"s":"A","x":77.5,"y":2520},{"s":"A","x":80,"y":2650},{"s":"A","x":82.5,"y":2750},{"s":"A","x":85,"y":2850},{"s":"A","x":87.5,"y":2950},{"s":"A","x":90,"y":3000},{"s":"A","x":92.5,"y":3050},{"s":"A","x":95,"y":3100},{"s":"A","x":97.5,"y":3150},{"s":"A","x":100,"y":3100},{"s":"A","x":102.5,"y":3050},{"s":"A","x":105,"y":3000},{"s":"A","x":107.5,"y":2950},{"s":"A","x":110,"y":2900},{"s":"A","x":112.5,"y":2750},{"s":"A","x":115,"y":2600},{"s":"A","x":117.5,"y":2400},{"s":"A","x":120,"y":2250},{"s":"A","x":122.5,"y":2150},{"s":"A","x":125,"y":2050},{"s":"A","x":127.5,"y":1950},{"s":"A","x":130,"y":1800},{"s":"A","x":132.5,"y":1650},{"s":"A","x":135,"y":1550},{"s":"A","x":137.5,"y":1400},{"s":"A","x":140,"y":1320},{"s":"A","x":142.5,"y":1200},{"s":"A","x":145,"y":1100},{"s":"A","x":147.5,"y":1000},{"s":"A","x":150,"y":950},{"s":"A","x":152.5,"y":850},{"s":"A","x":155,"y":760},{"s":"A","x":157.5,"y":680},{"s":"A","x":160,"y":600},{"s":"A","x":162.5,"y":530},{"s":"A","x":165,"y":480},{"s":"A","x":167.5,"y":400},{"s":"A","x":170,"y":350},{"s":"A","x":172.5,"y":310},{"s":"A","x":175,"y":275},{"s":"A","x":177.5,"y":240},{"s":"A","x":180,"y":200},{"s":"A","x":182.5,"y":190},{"s":"A","x":185,"y":160},{"s":"A","x":187.5,"y":150},{"s":"A","x":190,"y":120},{"s":"A","x":192.5,"y":112},{"s":"A","x":195,"y":100},{"s":"A","x":197.5,"y":90},{"s":"A","x":200,"y":85},{"s":"A","x":202.5,"y":70},{"s":"A","x":205,"y":62},{"s":"A","x":207.5,"y":55},{"s":"A","x":210,"y":42},{"s":"A","x":212.5,"y":40},{"s":"A","x":215,"y":33},{"s":"A","x":217.5,"y":28},{"s":"A","x":220,"y":21},{"s":"A","x":222.5,"y":20},{"s":"A","x":225,"y":22},{"s":"A","x":227.5,"y":19},{"s":"A","x":230,"y":18},{"s":"A","x":232.5,"y":16},{"s":"A","x":235,"y":17},{"s":"A","x":237.5,"y":13},{"s":"A","x":240,"y":12},{"s":"A","x":242.5,"y":13},{"s":"A","x":245,"y":11},{"s":"A","x":247.5,"y":10},{"s":"A","x":250,"y":0},
{"s":"c","x":2.5,"y":0},{"s":"c","x":5,"y":325},{"s":"c","x":7.5,"y":2130},{"s":"c","x":10,"y":3730},{"s":"c","x":12.5,"y":6680},{"s":"c","x":15,"y":8900},{"s":"c","x":17.5,"y":10900},{"s":"c","x":20,"y":11100},{"s":"c","x":22.5,"y":10900},{"s":"c","x":25,"y":9400},{"s":"c","x":27.5,"y":8000},{"s":"c","x":30,"y":6600},{"s":"c","x":32.5,"y":5300},{"s":"c","x":35,"y":4100},{"s":"c","x":37.5,"y":3100},{"s":"c","x":40,"y":2300},{"s":"c","x":42.5,"y":1600},{"s":"c","x":45,"y":1050},{"s":"c","x":47.5,"y":525},{"s":"c","x":50,"y":360},{"s":"c","x":52.5,"y":226},{"s":"c","x":55,"y":158},{"s":"c","x":57.5,"y":94},{"s":"c","x":60,"y":68},{"s":"c","x":62.5,"y":29},{"s":"c","x":65,"y":35},{"s":"c","x":67.5,"y":18},{"s":"c","x":70,"y":20},{"s":"c","x":72.5,"y":16},{"s":"c","x":75,"y":10},{"s":"c","x":77.5,"y":9},{"s":"c","x":80,"y":8},{"s":"c","x":82.5,"y":10},{"s":"c","x":85,"y":5},{"s":"c","x":87.5,"y":7},{"s":"c","x":90,"y":5},{"s":"c","x":92.5,"y":4},{"s":"c","x":95,"y":4},{"s":"c","x":97.5,"y":5},{"s":"c","x":100,"y":3},{"s":"c","x":102.5,"y":5},{"s":"c","x":105,"y":2},{"s":"c","x":107.5,"y":2},{"s":"c","x":110,"y":2},{"s":"c","x":112.5,"y":4},{"s":"c","x":115,"y":2},{"s":"c","x":117.5,"y":1},{"s":"c","x":120,"y":0},{"s":"c","x":122.5,"y":1},{"s":"c","x":125,"y":0},{"s":"c","x":127.5,"y":1},{"s":"c","x":130,"y":0},{"s":"c","x":132.5,"y":1},{"s":"c","x":135,"y":0},{"s":"c","x":147.5,"y":1},{"s":"c","x":150,"y":0},{"s":"c","x":180,"y":1},{"s":"c","x":182.5,"y":0},{"s":"c","x":187.5,"y":1},{"s":"c","x":190,"y":0},{"s":"c","x":197.5,"y":1},{"s":"c","x":200,"y":0},{"s":"c","x":205,"y":1},{"s":"c","x":207.5,"y":0},{"s":"c","x":237.5,"y":1},{"s":"c","x":240,"y":0},
{"s":"b","x":2.5,"y":0},{"s":"b","x":5,"y":2},{"s":"b","x":7.5,"y":28},{"s":"b","x":10,"y":186},{"s":"b","x":12.5,"y":676},{"s":"b","x":15,"y":1715},{"s":"b","x":17.5,"y":3220},{"s":"b","x":20,"y":5100},{"s":"b","x":22.5,"y":6800},{"s":"b","x":25,"y":8500},{"s":"b","x":27.5,"y":9400},{"s":"b","x":30,"y":9550},{"s":"b","x":32.5,"y":9200},{"s":"b","x":35,"y":8200},{"s":"b","x":37.5,"y":6800},{"s":"b","x":40,"y":5800},{"s":"b","x":42.5,"y":4700},{"s":"b","x":45,"y":3600},{"s":"b","x":47.5,"y":2800},{"s":"b","x":50,"y":2000},{"s":"b","x":52.5,"y":1400},{"s":"b","x":55,"y":970},{"s":"b","x":57.5,"y":710},{"s":"b","x":60,"y":505},{"s":"b","x":62.5,"y":340},{"s":"b","x":65,"y":250},{"s":"b","x":67.5,"y":160},{"s":"b","x":70,"y":100},{"s":"b","x":72.5,"y":95},{"s":"b","x":75,"y":44},{"s":"b","x":77.5,"y":35},{"s":"b","x":80,"y":23},{"s":"b","x":82.5,"y":19},{"s":"b","x":85,"y":16},{"s":"b","x":87.5,"y":11},{"s":"b","x":90,"y":10},{"s":"b","x":92.5,"y":7},{"s":"b","x":95,"y":6},{"s":"b","x":97.5,"y":9},{"s":"b","x":100,"y":6},{"s":"b","x":102.5,"y":4},{"s":"b","x":105,"y":5},{"s":"b","x":107.5,"y":3},{"s":"b","x":110,"y":5},{"s":"b","x":112.5,"y":4},{"s":"b","x":115,"y":0},{"s":"b","x":120,"y":4},{"s":"b","x":122.5,"y":0},{"s":"b","x":140,"y":1},{"s":"b","x":142.5,"y":0},{"s":"b","x":145,"y":1},{"s":"b","x":147.5,"y":0},{"s":"b","x":160,"y":1},{"s":"b","x":162.5,"y":0},{"s":"b","x":165,"y":1},{"s":"b","x":167.5,"y":0},{"s":"b","x":170,"y":1},{"s":"b","x":172.5,"y":1},{"s":"b","x":175,"y":0},{"s":"b","x":182.5,"y":1},{"s":"b","x":185,"y":2},{"s":"b","x":187.5,"y":0},{"s":"b","x":235,"y":1},{"s":"b","x":237.5,"y":0}
]},
"mark":{"type":"line","interpolate":"step-after","strokeWidth":2.3,"strokeOpacity":0.92,"clip":true},
"encoding":{
"x":{"field":"x","type":"quantitative","scale":{"domain":[-12.3,261.6],"nice":false,"zero":false},"axis":{"values":[0,50,100,150,200,250],"title":"Detected Photons [10³]","titleFont":"DejaVu Sans Condensed","titleFontSize":23.5,"labelFontSize":22,"grid":true,"tickSize":7,"labelPadding":10,"titlePadding":14,"labelFlush":false}},
"y":{"field":"y","type":"quantitative","scale":{"type":"log","domain":[0.628,17440],"nice":false,"clamp":true},"axis":{"title":"entries","titleFont":"DejaVu Sans","titleFontSize":24,"labelFontSize":24,"values":[0.7,0.8,0.9,1,2,3,4,5,6,7,8,9,10,20,30,40,50,60,70,80,90,100,200,300,400,500,600,700,800,900,1000,2000,3000,4000,5000,6000,7000,8000,9000,10000],"labelExpr":"datum.value==1?'10⁰':datum.value==10?'10¹':datum.value==100?'10²':datum.value==1000?'10³':datum.value==10000?'10⁴':''","labelOverlap":false,"labelFlush":false,"labelPadding":4,"titlePadding":10,"grid":true,"gridOpacity":{"condition":{"test":"datum.value==1||datum.value==10||datum.value==100||datum.value==1000||datum.value==10000","value":1},"value":0},"tickSize":{"condition":{"test":"datum.value==1||datum.value==10||datum.value==100||datum.value==1000||datum.value==10000","value":7},"value":4}}},
"color":{"field":"s","type":"nominal","legend":null,"scale":{"domain":["Q","T","S","L","G","P","U","H","I","V","Y","N","J","K","M","Z","O","E","X","R","D","W","C","B","A","c","b"],"range":["#4DFFA8","#29F0D6","#3CF5C8","#B2FF45","#C4FF33","#A8FF50","#60FF90","#95FF62","#7DFF7A","#CCFF20","#FFD000","#FFBF00","#FFE600","#EBF700","#FFF000","#FFB300","#FFA200","#EE0000","#FF1500","#D10000","#9E0000","#B00000","#FF3300","#FF5500","#FF4400","#00E0FF","#0028FF"]}}
}},
{"data":{"values":[{"x":-1.75,"y":71550,"t":"2 virtual PDS modules"}]},"mark":{"type":"text","align":"left","baseline":"middle","font":"DejaVu Sans Condensed","fontSize":28.5,"fontWeight":"bold","color":"black"},"encoding":{"x":{"field":"x","type":"quantitative"},"y":{"field":"y","type":"quantitative","scale":{"type":"log","domain":[0.628,17440],"nice":false},"axis":null},"text":{"field":"t"}}},
{"data":{"values":[{"x":124.85,"y":24520,"t":"Detected Photons on OpDets [0,29] + [61,89] + [90,91]"}]},"mark":{"type":"text","align":"center","baseline":"middle","font":"DejaVu Sans","fontSize":25,"fontWeight":"normal","color":"black"},"encoding":{"x":{"field":"x","type":"quantitative"},"y":{"field":"y","type":"quantitative","scale":{"type":"log","domain":[0.628,17440],"nice":false},"axis":null},"text":{"field":"t"}}},
{"data":{"values":[{"x":47.5,"y":49000,"x2":30.9,"y2":14920}]},"mark":{"type":"rule","color":"#FF4500","strokeWidth":1.2},"encoding":{"x":{"field":"x","type":"quantitative"},"y":{"field":"y","type":"quantitative","scale":{"type":"log","domain":[0.628,17440],"nice":false},"axis":null},"x2":{"field":"x2"},"y2":{"field":"y2"}}},
{"data":{"values":[{"x":29.25,"y":13225}]},"mark":{"type":"point","shape":"triangle-up","angle":211,"size":500,"filled":true,"color":"#FF4500","opacity":1},"encoding":{"x":{"field":"x","type":"quantitative"},"y":{"field":"y","type":"quantitative","scale":{"type":"log","domain":[0.628,17440],"nice":false},"axis":null}}}
],
"resolve":{"scale":{"y":"independent"}}
}
